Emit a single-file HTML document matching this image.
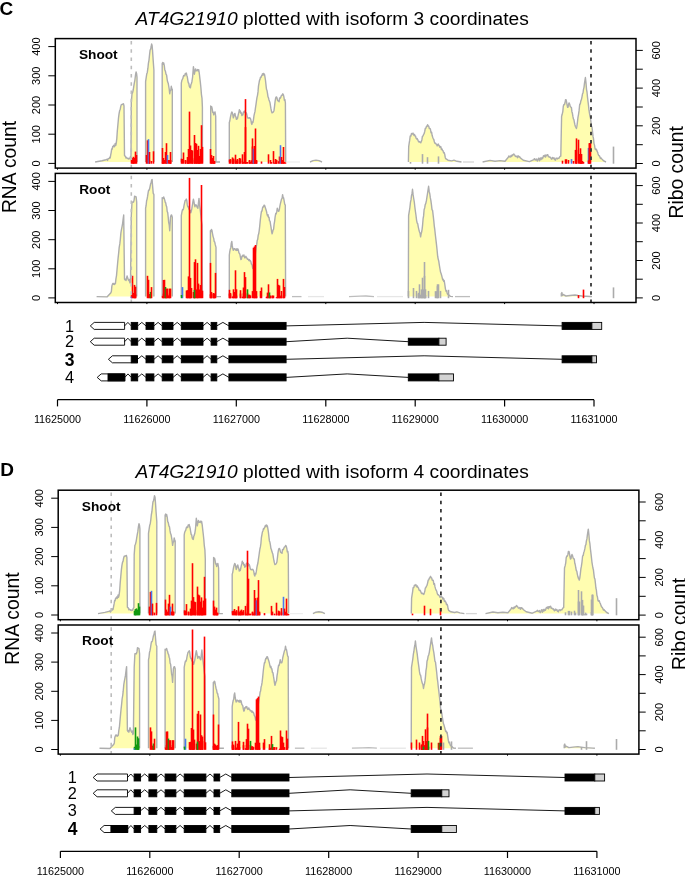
<!DOCTYPE html><html><head><meta charset="utf-8"><style>html,body{margin:0;padding:0;background:#fff;}svg{display:block;will-change:transform;}text{font-family:"Liberation Sans", sans-serif;}</style></head><body>
<svg width="685" height="875" viewBox="0 0 685 875">
<rect width="685" height="875" fill="#fff"/>
<text x="-0.6" y="14.9" font-size="19" text-anchor="start" font-weight="bold" font-style="normal" fill="#000">C</text>
<text x="135.6" y="24.7" font-size="19.2"><tspan font-style="italic">AT4G21910</tspan> plotted with isoform 3 coordinates</text>
<g><polygon points="95.1,162.0 102.0,160.8 106.0,159.8 106.5,159.4 107.0,159.5 107.6,160.4 108.1,158.7 108.6,158.6 109.2,158.6 109.7,157.2 110.2,157.9 110.7,154.9 111.2,152.3 111.7,148.9 112.2,149.2 112.7,146.5 113.2,146.5 113.7,145.3 114.2,146.9 114.7,145.9 115.2,143.4 115.7,145.6 116.2,143.6 116.8,138.6 117.3,131.3 117.9,124.7 118.5,118.0 119.0,114.1 119.6,110.8 120.2,109.5 120.7,106.6 121.3,104.7 121.8,104.6 122.4,104.2 123.0,104.4 123.5,103.8 124.0,106.0 124.5,155.6 125.0,156.0 125.5,156.4 126.0,158.1 126.5,157.6 127.0,158.0 127.6,158.6 128.1,158.3 128.7,158.9 129.2,158.4 129.8,158.7 130.4,156.7 131.0,156.0 131.3,102.9 132.0,93.8 132.6,92.6 133.2,90.0 133.7,86.9 134.3,83.2 134.9,80.1 135.5,75.2 136.1,72.0 136.6,73.8 137.0,77.2 137.0,162.0" fill="#FFFDB0" stroke="none"/>
<polygon points="145.6,162.0 145.6,81.7 146.2,77.7 146.8,73.7 147.3,72.4 147.9,68.2 148.4,63.4 149.0,60.1 149.6,54.2 150.1,50.0 150.6,49.4 151.1,47.0 151.6,44.0 152.1,45.5 152.5,50.0 153.2,60.6 153.9,70.0 153.9,162.0" fill="#FFFDB0" stroke="none"/>
<polygon points="162.2,162.0 162.2,63.6 162.7,62.5 163.2,64.4 163.7,62.9 164.3,65.6 164.8,70.0 165.4,71.1 166.0,74.2 166.6,75.2 167.1,79.1 167.6,81.8 168.2,83.2 168.7,86.0 169.2,89.0 169.7,93.8 170.2,90.8 170.8,90.2 171.3,86.3 171.8,88.6 172.3,89.3 172.3,162.0" fill="#FFFDB0" stroke="none"/>
<polygon points="181.3,162.0 181.3,83.2 181.8,80.6 182.3,79.4 182.8,78.7 183.3,76.5 183.8,75.4 184.3,75.7 184.8,75.9 185.3,73.4 185.8,73.9 186.3,73.0 186.8,75.2 187.3,76.9 187.8,80.2 188.3,82.9 188.8,83.2 189.3,86.3 189.9,87.5 190.4,87.8 190.9,84.6 191.4,83.5 191.9,81.7 192.6,77.2 193.4,66.7 193.9,69.6 194.4,74.2 195.0,70.9 195.6,68.9 196.1,70.8 196.6,70.8 197.1,70.4 197.6,69.6 198.2,71.1 198.7,69.7 199.3,73.3 199.9,78.7 200.4,82.9 200.9,87.8 201.4,94.1 202.0,98.3 202.4,107.4 202.4,162.0" fill="#FFFDB0" stroke="none"/>
<polygon points="210.7,162.0 210.7,105.9 211.2,107.3 211.7,106.7 212.2,108.9 212.7,112.4 213.2,112.0 213.7,114.9 214.3,112.7 215.0,111.9 215.7,116.4 216.0,162.0 220.0,162.0" fill="#FFFDB0" stroke="none"/>
<polygon points="229.3,162.0 229.3,122.5 229.8,121.0 230.3,117.9 230.8,115.4 231.3,113.3 231.8,111.9 232.3,112.6 232.8,114.7 233.3,117.9 233.8,116.6 234.4,114.1 234.9,113.4 235.4,115.7 235.9,117.0 236.4,119.4 236.9,118.3 237.4,118.8 237.9,116.4 238.4,114.1 238.9,112.1 239.4,109.6 239.9,112.0 240.4,111.2 240.9,113.4 241.4,112.9 241.9,115.6 242.4,114.9 242.9,114.9 243.4,112.1 243.9,111.9 244.4,111.0 244.9,112.6 245.4,111.9 245.9,114.2 246.4,113.0 246.9,114.9 247.4,117.3 247.9,118.0 248.4,117.9 248.9,118.2 249.4,117.7 249.9,117.9 250.4,118.5 250.9,120.0 251.4,123.2 251.9,124.4 252.4,121.9 252.9,122.5 253.4,120.1 254.0,115.7 254.5,113.4 255.0,111.4 255.5,107.7 256.0,104.4 256.5,100.7 257.0,97.4 257.5,95.3 258.0,91.9 258.5,85.9 259.0,83.2 259.5,80.4 260.0,79.4 260.5,77.2 261.0,77.5 261.5,76.1 262.0,75.0 262.5,73.8 263.0,75.2 263.5,73.4 264.0,73.8 264.5,74.5 265.0,77.2 265.5,80.5 266.0,85.1 266.5,89.3 267.0,90.5 267.5,93.3 268.0,96.8 268.5,97.9 269.0,100.0 269.5,101.3 270.0,102.7 270.5,106.0 271.0,108.9 271.5,111.3 272.0,112.9 272.5,112.7 273.0,112.4 273.5,111.7 274.0,110.4 274.5,106.6 275.1,101.3 275.6,98.3 276.1,96.9 276.6,96.9 277.1,98.3 277.6,100.5 278.1,100.9 278.6,101.3 279.1,101.7 279.6,97.9 280.1,98.3 280.6,97.7 281.1,96.2 281.6,95.3 282.2,95.2 282.8,93.8 283.4,94.8 283.9,96.8 284.4,100.3 284.9,99.6 285.4,102.9 285.7,162.0" fill="#FFFDB0" stroke="none"/>
<polygon points="310.0,162.0 313.0,160.6 316.0,160.1 319.0,160.6 322.0,162.0" fill="#FFFDB0" stroke="none"/>
<polygon points="408.4,162.0 408.7,146.6 409.2,143.2 409.7,140.2 410.2,136.0 410.9,136.0 411.5,133.5 412.0,134.0 412.5,133.8 413.0,133.0 413.5,134.5 414.0,135.4 414.5,134.4 415.0,136.0 415.5,136.0 416.1,138.2 416.6,139.0 417.2,138.6 417.8,139.8 418.3,141.2 418.8,141.9 419.3,141.5 419.8,142.2 420.3,141.9 420.8,142.8 421.4,141.3 421.9,139.7 422.4,136.4 423.0,136.0 423.6,134.5 424.1,133.7 424.7,131.5 425.3,128.5 425.9,128.2 426.5,126.3 427.0,126.4 427.6,124.7 428.2,125.9 428.8,126.4 429.3,128.6 429.9,128.5 430.4,129.0 431.0,132.7 431.6,132.2 432.1,135.3 432.7,137.3 433.2,138.6 433.8,139.5 434.4,142.0 434.9,143.2 435.5,143.1 436.1,144.1 436.6,144.3 437.2,145.9 437.8,144.3 438.3,144.0 438.9,145.8 439.4,145.7 439.9,147.4 440.4,146.5 440.9,146.9 441.4,149.6 441.9,148.9 442.5,150.3 443.0,150.6 443.6,152.9 444.2,152.6 444.7,154.1 445.2,157.2 445.7,158.7 448.0,160.2 451.7,160.9 454.0,160.2 457.0,161.3 461.5,162.0" fill="#FFFDB0" stroke="none"/>
<polygon points="482.6,162.0 490.0,160.4 495.0,161.2 500.0,160.6 505.0,161.2 508.3,157.2 508.8,156.0 509.4,156.3 509.9,157.1 510.5,157.1 511.0,155.5 511.6,156.5 512.1,155.0 512.6,155.4 513.2,154.5 513.8,153.9 514.3,154.9 514.8,155.1 515.4,156.4 515.9,156.6 516.5,156.4 517.0,156.0 517.5,157.7 518.1,156.0 518.6,156.0 519.2,157.1 519.8,156.9 520.3,157.9 523.3,160.2 529.4,161.6 533.9,159.6 534.4,158.7 534.9,159.3 535.4,160.0 535.9,159.6 536.4,159.0 537.0,160.6 537.5,161.0 538.0,159.5 538.5,158.3 539.0,158.2 539.5,160.7 540.0,159.6 540.5,157.9 541.0,159.5 541.5,158.8 542.0,157.6 542.5,158.7 543.0,157.5 543.5,155.8 544.1,155.9 544.6,156.6 545.1,155.0 545.6,157.1 546.2,155.1 546.7,155.6 547.2,154.8 547.8,154.7 548.3,156.7 548.9,156.4 549.4,157.1 550.0,157.4 550.5,157.2 551.0,158.4 551.5,159.2 552.0,158.7 552.5,157.5 553.0,158.6 553.5,158.0 554.0,157.8 554.5,159.5 555.0,159.9 555.5,160.2 556.0,158.3 556.5,158.3 557.0,158.2 557.5,159.0 558.0,158.2 558.5,158.1 559.0,158.3 559.5,157.2 560.1,156.3 560.8,156.0 561.6,116.4 562.2,114.3 562.8,111.6 563.3,106.2 563.9,104.4 564.5,104.5 565.0,102.8 565.5,99.8 566.1,99.8 566.6,102.2 567.1,105.2 567.6,107.4 568.1,107.1 568.6,104.0 569.1,102.9 569.7,104.2 570.2,106.3 570.8,107.2 571.4,107.4 571.9,111.7 572.4,113.3 572.9,116.4 573.4,118.9 573.9,119.6 574.4,122.5 574.9,124.7 575.4,126.5 575.9,127.4 576.4,128.5 576.9,126.2 577.4,122.5 578.0,117.1 578.5,114.6 579.1,110.4 579.7,104.4 580.3,103.9 580.9,100.7 581.4,99.6 582.0,96.8 582.5,93.8 583.0,93.0 583.5,89.3 584.0,87.3 584.5,83.2 585.4,77.5 586.0,82.9 586.5,89.3 587.0,92.0 587.5,97.1 588.0,101.3 588.5,105.5 589.0,110.2 589.5,113.4 590.0,116.4 590.5,118.1 591.0,122.5 591.5,126.4 592.0,127.2 592.5,131.5 593.0,136.4 593.5,138.6 594.0,143.6 594.5,145.1 595.0,148.5 595.5,149.6 596.0,149.0 596.5,149.5 597.0,151.1 597.6,152.3 598.1,154.0 598.7,155.5 599.3,155.6 599.9,156.9 600.5,158.5 601.0,157.9 601.6,158.7 603.8,160.9 606.0,162.0" fill="#FFFDB0" stroke="none"/>
<polygon points="96.6,296.6 107.0,296.9 110.9,292.7 111.4,291.3 111.9,285.9 112.4,284.4 112.9,283.4 113.4,284.2 113.9,283.4 114.4,284.6 114.9,284.1 115.4,283.6 115.9,279.1 116.5,275.6 117.0,270.0 117.5,264.5 118.1,258.1 118.7,252.7 119.2,247.4 119.8,243.9 120.3,239.6 120.9,232.9 121.5,229.3 122.0,226.8 122.6,223.6 123.2,218.6 123.7,215.0 124.5,279.1 125.0,279.8 125.5,279.2 126.0,280.6 126.5,278.4 127.1,276.0 127.7,277.9 128.3,279.8 128.9,280.7 129.4,279.5 129.9,282.9 130.5,282.1 131.3,215.7 132.0,202.2 132.5,202.2 133.0,201.9 133.5,202.2 134.1,200.1 134.6,196.1 135.1,196.6 135.6,196.6 136.1,196.9 136.7,202.2 136.7,296.6" fill="#FFFDB0" stroke="none"/>
<polygon points="145.6,296.6 145.6,208.2 146.1,205.7 146.6,200.8 147.1,199.1 147.6,196.2 148.1,192.8 148.6,190.1 149.1,190.2 149.6,188.8 150.1,186.3 150.6,183.9 151.1,182.8 151.6,180.1 152.1,179.5 152.6,186.1 153.2,193.1 153.9,194.6 153.9,296.6" fill="#FFFDB0" stroke="none"/>
<polygon points="162.2,296.6 162.2,197.6 162.7,198.3 163.2,198.3 163.7,196.9 164.2,198.6 164.7,199.9 165.2,202.2 165.7,202.8 166.2,205.6 166.7,206.7 167.2,211.5 167.7,212.6 168.2,217.2 168.7,222.6 169.2,224.8 169.7,230.8 170.5,217.2 171.1,215.2 171.6,215.0 172.3,217.2 172.3,296.6" fill="#FFFDB0" stroke="none"/>
<polygon points="181.3,296.6 181.3,215.7 182.1,211.2 182.6,209.4 183.1,209.8 183.6,208.2 184.1,205.2 184.6,202.8 185.1,200.7 185.7,200.3 186.3,199.1 186.8,200.4 187.3,204.9 187.8,206.7 188.3,206.6 188.8,208.7 189.3,209.7 189.8,210.0 190.3,210.8 190.8,212.7 191.4,210.5 191.9,208.2 192.4,205.0 192.9,201.8 193.4,199.1 193.9,201.4 194.4,204.3 194.9,206.7 195.4,205.2 195.9,204.8 196.4,205.2 196.9,206.6 197.4,207.6 197.9,208.2 198.4,203.4 199.0,198.4 199.6,205.1 200.2,209.7 200.9,215.7 201.4,220.6 202.0,224.8 202.4,296.6" fill="#FFFDB0" stroke="none"/>
<polygon points="210.4,296.6 210.4,230.8 210.9,231.6 211.4,229.5 211.9,230.1 212.5,233.6 213.1,236.6 213.7,238.4 214.2,241.6 214.7,241.8 215.2,244.4 216.0,247.4 216.0,296.6 221.0,296.6" fill="#FFFDB0" stroke="none"/>
<polygon points="229.3,296.6 229.3,255.0 229.8,251.4 230.3,248.9 230.8,247.7 231.3,243.1 231.8,241.4 232.3,245.9 232.8,248.6 233.3,250.4 233.8,248.8 234.4,248.6 234.9,248.9 235.4,250.1 235.9,249.2 236.4,250.4 236.9,248.7 237.4,250.4 237.9,248.9 238.4,250.2 238.9,252.8 239.4,253.4 239.9,254.3 240.4,257.2 240.9,259.5 241.4,259.1 241.9,256.1 242.4,256.5 242.9,255.1 243.4,256.0 243.9,255.0 244.4,257.0 244.9,257.9 245.4,257.2 245.9,256.3 246.4,257.8 246.9,258.0 247.4,259.3 247.9,259.0 248.4,259.5 248.9,260.6 249.4,259.6 249.9,261.0 250.4,260.7 250.9,261.8 251.4,264.0 252.1,264.9 252.7,268.5 253.2,267.2 253.7,265.5 254.2,262.0 254.7,258.7 255.2,255.0 255.7,250.4 256.2,247.0 256.7,244.4 257.2,240.5 257.7,239.4 258.2,235.3 258.7,233.8 259.2,230.6 259.7,226.3 260.3,220.1 260.9,214.9 261.5,211.2 262.0,211.1 262.5,208.1 263.0,206.7 263.5,207.0 264.0,205.2 264.5,205.2 265.0,206.6 265.5,208.2 266.0,209.7 266.5,211.5 267.0,214.0 267.5,215.7 268.0,214.7 268.5,217.3 269.0,217.2 269.5,220.8 270.1,221.3 270.6,224.8 271.1,227.7 271.6,231.5 272.1,233.8 272.6,232.0 273.1,229.9 273.6,229.3 274.1,224.3 274.6,221.3 275.1,217.2 275.7,213.5 276.2,213.9 276.8,211.4 277.3,208.2 277.8,209.8 278.4,211.3 278.9,211.2 279.4,209.1 279.9,205.9 280.4,203.7 280.9,201.7 281.5,199.2 282.1,198.3 282.6,194.6 283.1,197.5 283.6,197.9 284.1,200.7 284.7,204.2 285.3,205.2 285.6,296.6" fill="#FFFDB0" stroke="none"/>
<polygon points="408.3,296.6 408.6,215.7 409.2,211.9 409.9,207.5 410.5,202.2 411.0,199.9 411.5,195.5 412.0,193.7 412.5,189.3 413.1,194.7 413.7,198.5 414.3,202.2 414.9,207.5 415.5,212.0 416.0,215.5 416.6,220.3 417.2,223.2 417.7,223.5 418.2,226.6 418.8,229.3 419.4,231.7 420.0,232.9 420.6,236.9 421.1,233.9 421.6,232.2 422.1,229.3 422.6,224.8 423.1,218.7 423.6,215.9 424.1,209.7 424.7,207.9 425.2,204.7 425.8,203.4 426.4,200.7 426.9,197.3 427.5,193.6 428.1,189.6 428.6,186.3 429.2,191.4 429.8,193.9 430.3,197.7 430.9,200.7 431.5,205.2 432.0,209.6 432.6,210.5 433.2,215.7 433.8,220.9 434.3,226.2 434.8,229.7 435.4,235.3 436.0,240.3 436.5,244.6 437.1,250.3 437.7,256.5 438.2,259.1 438.8,261.3 439.3,264.8 439.9,268.5 440.5,272.0 441.0,273.2 441.6,275.3 442.2,277.6 442.7,279.8 443.2,279.3 443.7,281.3 444.2,280.6 444.8,284.5 445.4,288.6 446.0,291.2 446.6,290.7 447.1,293.0 447.6,294.2 448.2,294.2 450.5,296.4 453.0,296.6" fill="#FFFDB0" stroke="none"/>
<polygon points="561.3,296.6 561.3,293.6 561.9,292.5 562.4,295.5 563.0,294.5 566.0,296.0 570.0,295.5 575.0,295.0 578.0,295.5 582.0,296.0 590.0,296.5 592.0,296.6" fill="#FFFDB0" stroke="none"/>
<polyline points="95.1,162.0 102.0,160.8 106.0,159.8 106.5,159.4 107.0,159.5 107.6,160.4 108.1,158.7 108.6,158.6 109.2,158.6 109.7,157.2 110.2,157.9 110.7,154.9 111.2,152.3 111.7,148.9 112.2,149.2 112.7,146.5 113.2,146.5 113.7,145.3 114.2,146.9 114.7,145.9 115.2,143.4 115.7,145.6 116.2,143.6 116.8,138.6 117.3,131.3 117.9,124.7 118.5,118.0 119.0,114.1 119.6,110.8 120.2,109.5 120.7,106.6 121.3,104.7 121.8,104.6 122.4,104.2 123.0,104.4 123.5,103.8 124.0,106.0 124.5,155.6 125.0,156.0 125.5,156.4 126.0,158.1 126.5,157.6 127.0,158.0 127.6,158.6 128.1,158.3 128.7,158.9 129.2,158.4 129.8,158.7 130.4,156.7 131.0,156.0 131.3,102.9 132.0,93.8 132.6,92.6 133.2,90.0 133.7,86.9 134.3,83.2 134.9,80.1 135.5,75.2 136.1,72.0 136.6,73.8 137.0,77.2 137.0,162.0" fill="none" stroke="#ADADAD" stroke-width="1.4" stroke-linejoin="round"/>
<polyline points="145.6,162.0 145.6,81.7 146.2,77.7 146.8,73.7 147.3,72.4 147.9,68.2 148.4,63.4 149.0,60.1 149.6,54.2 150.1,50.0 150.6,49.4 151.1,47.0 151.6,44.0 152.1,45.5 152.5,50.0 153.2,60.6 153.9,70.0 153.9,162.0" fill="none" stroke="#ADADAD" stroke-width="1.4" stroke-linejoin="round"/>
<polyline points="162.2,162.0 162.2,63.6 162.7,62.5 163.2,64.4 163.7,62.9 164.3,65.6 164.8,70.0 165.4,71.1 166.0,74.2 166.6,75.2 167.1,79.1 167.6,81.8 168.2,83.2 168.7,86.0 169.2,89.0 169.7,93.8 170.2,90.8 170.8,90.2 171.3,86.3 171.8,88.6 172.3,89.3 172.3,162.0" fill="none" stroke="#ADADAD" stroke-width="1.4" stroke-linejoin="round"/>
<polyline points="181.3,162.0 181.3,83.2 181.8,80.6 182.3,79.4 182.8,78.7 183.3,76.5 183.8,75.4 184.3,75.7 184.8,75.9 185.3,73.4 185.8,73.9 186.3,73.0 186.8,75.2 187.3,76.9 187.8,80.2 188.3,82.9 188.8,83.2 189.3,86.3 189.9,87.5 190.4,87.8 190.9,84.6 191.4,83.5 191.9,81.7 192.6,77.2 193.4,66.7 193.9,69.6 194.4,74.2 195.0,70.9 195.6,68.9 196.1,70.8 196.6,70.8 197.1,70.4 197.6,69.6 198.2,71.1 198.7,69.7 199.3,73.3 199.9,78.7 200.4,82.9 200.9,87.8 201.4,94.1 202.0,98.3 202.4,107.4 202.4,162.0" fill="none" stroke="#ADADAD" stroke-width="1.4" stroke-linejoin="round"/>
<polyline points="210.7,162.0 210.7,105.9 211.2,107.3 211.7,106.7 212.2,108.9 212.7,112.4 213.2,112.0 213.7,114.9 214.3,112.7 215.0,111.9 215.7,116.4 216.0,162.0 220.0,162.0" fill="none" stroke="#ADADAD" stroke-width="1.4" stroke-linejoin="round"/>
<polyline points="229.3,162.0 229.3,122.5 229.8,121.0 230.3,117.9 230.8,115.4 231.3,113.3 231.8,111.9 232.3,112.6 232.8,114.7 233.3,117.9 233.8,116.6 234.4,114.1 234.9,113.4 235.4,115.7 235.9,117.0 236.4,119.4 236.9,118.3 237.4,118.8 237.9,116.4 238.4,114.1 238.9,112.1 239.4,109.6 239.9,112.0 240.4,111.2 240.9,113.4 241.4,112.9 241.9,115.6 242.4,114.9 242.9,114.9 243.4,112.1 243.9,111.9 244.4,111.0 244.9,112.6 245.4,111.9 245.9,114.2 246.4,113.0 246.9,114.9 247.4,117.3 247.9,118.0 248.4,117.9 248.9,118.2 249.4,117.7 249.9,117.9 250.4,118.5 250.9,120.0 251.4,123.2 251.9,124.4 252.4,121.9 252.9,122.5 253.4,120.1 254.0,115.7 254.5,113.4 255.0,111.4 255.5,107.7 256.0,104.4 256.5,100.7 257.0,97.4 257.5,95.3 258.0,91.9 258.5,85.9 259.0,83.2 259.5,80.4 260.0,79.4 260.5,77.2 261.0,77.5 261.5,76.1 262.0,75.0 262.5,73.8 263.0,75.2 263.5,73.4 264.0,73.8 264.5,74.5 265.0,77.2 265.5,80.5 266.0,85.1 266.5,89.3 267.0,90.5 267.5,93.3 268.0,96.8 268.5,97.9 269.0,100.0 269.5,101.3 270.0,102.7 270.5,106.0 271.0,108.9 271.5,111.3 272.0,112.9 272.5,112.7 273.0,112.4 273.5,111.7 274.0,110.4 274.5,106.6 275.1,101.3 275.6,98.3 276.1,96.9 276.6,96.9 277.1,98.3 277.6,100.5 278.1,100.9 278.6,101.3 279.1,101.7 279.6,97.9 280.1,98.3 280.6,97.7 281.1,96.2 281.6,95.3 282.2,95.2 282.8,93.8 283.4,94.8 283.9,96.8 284.4,100.3 284.9,99.6 285.4,102.9 285.7,162.0" fill="none" stroke="#ADADAD" stroke-width="1.4" stroke-linejoin="round"/>
<polyline points="310.0,162.0 313.0,160.6 316.0,160.1 319.0,160.6 322.0,162.0" fill="none" stroke="#ADADAD" stroke-width="1.4" stroke-linejoin="round"/>
<polyline points="408.4,162.0 408.7,146.6 409.2,143.2 409.7,140.2 410.2,136.0 410.9,136.0 411.5,133.5 412.0,134.0 412.5,133.8 413.0,133.0 413.5,134.5 414.0,135.4 414.5,134.4 415.0,136.0 415.5,136.0 416.1,138.2 416.6,139.0 417.2,138.6 417.8,139.8 418.3,141.2 418.8,141.9 419.3,141.5 419.8,142.2 420.3,141.9 420.8,142.8 421.4,141.3 421.9,139.7 422.4,136.4 423.0,136.0 423.6,134.5 424.1,133.7 424.7,131.5 425.3,128.5 425.9,128.2 426.5,126.3 427.0,126.4 427.6,124.7 428.2,125.9 428.8,126.4 429.3,128.6 429.9,128.5 430.4,129.0 431.0,132.7 431.6,132.2 432.1,135.3 432.7,137.3 433.2,138.6 433.8,139.5 434.4,142.0 434.9,143.2 435.5,143.1 436.1,144.1 436.6,144.3 437.2,145.9 437.8,144.3 438.3,144.0 438.9,145.8 439.4,145.7 439.9,147.4 440.4,146.5 440.9,146.9 441.4,149.6 441.9,148.9 442.5,150.3 443.0,150.6 443.6,152.9 444.2,152.6 444.7,154.1 445.2,157.2 445.7,158.7 448.0,160.2 451.7,160.9 454.0,160.2 457.0,161.3 461.5,162.0" fill="none" stroke="#ADADAD" stroke-width="1.4" stroke-linejoin="round"/>
<polyline points="482.6,162.0 490.0,160.4 495.0,161.2 500.0,160.6 505.0,161.2 508.3,157.2 508.8,156.0 509.4,156.3 509.9,157.1 510.5,157.1 511.0,155.5 511.6,156.5 512.1,155.0 512.6,155.4 513.2,154.5 513.8,153.9 514.3,154.9 514.8,155.1 515.4,156.4 515.9,156.6 516.5,156.4 517.0,156.0 517.5,157.7 518.1,156.0 518.6,156.0 519.2,157.1 519.8,156.9 520.3,157.9 523.3,160.2 529.4,161.6 533.9,159.6 534.4,158.7 534.9,159.3 535.4,160.0 535.9,159.6 536.4,159.0 537.0,160.6 537.5,161.0 538.0,159.5 538.5,158.3 539.0,158.2 539.5,160.7 540.0,159.6 540.5,157.9 541.0,159.5 541.5,158.8 542.0,157.6 542.5,158.7 543.0,157.5 543.5,155.8 544.1,155.9 544.6,156.6 545.1,155.0 545.6,157.1 546.2,155.1 546.7,155.6 547.2,154.8 547.8,154.7 548.3,156.7 548.9,156.4 549.4,157.1 550.0,157.4 550.5,157.2 551.0,158.4 551.5,159.2 552.0,158.7 552.5,157.5 553.0,158.6 553.5,158.0 554.0,157.8 554.5,159.5 555.0,159.9 555.5,160.2 556.0,158.3 556.5,158.3 557.0,158.2 557.5,159.0 558.0,158.2 558.5,158.1 559.0,158.3 559.5,157.2 560.1,156.3 560.8,156.0 561.6,116.4 562.2,114.3 562.8,111.6 563.3,106.2 563.9,104.4 564.5,104.5 565.0,102.8 565.5,99.8 566.1,99.8 566.6,102.2 567.1,105.2 567.6,107.4 568.1,107.1 568.6,104.0 569.1,102.9 569.7,104.2 570.2,106.3 570.8,107.2 571.4,107.4 571.9,111.7 572.4,113.3 572.9,116.4 573.4,118.9 573.9,119.6 574.4,122.5 574.9,124.7 575.4,126.5 575.9,127.4 576.4,128.5 576.9,126.2 577.4,122.5 578.0,117.1 578.5,114.6 579.1,110.4 579.7,104.4 580.3,103.9 580.9,100.7 581.4,99.6 582.0,96.8 582.5,93.8 583.0,93.0 583.5,89.3 584.0,87.3 584.5,83.2 585.4,77.5 586.0,82.9 586.5,89.3 587.0,92.0 587.5,97.1 588.0,101.3 588.5,105.5 589.0,110.2 589.5,113.4 590.0,116.4 590.5,118.1 591.0,122.5 591.5,126.4 592.0,127.2 592.5,131.5 593.0,136.4 593.5,138.6 594.0,143.6 594.5,145.1 595.0,148.5 595.5,149.6 596.0,149.0 596.5,149.5 597.0,151.1 597.6,152.3 598.1,154.0 598.7,155.5 599.3,155.6 599.9,156.9 600.5,158.5 601.0,157.9 601.6,158.7 603.8,160.9 606.0,162.0" fill="none" stroke="#ADADAD" stroke-width="1.4" stroke-linejoin="round"/>
<polyline points="96.6,296.6 107.0,296.9 110.9,292.7 111.4,291.3 111.9,285.9 112.4,284.4 112.9,283.4 113.4,284.2 113.9,283.4 114.4,284.6 114.9,284.1 115.4,283.6 115.9,279.1 116.5,275.6 117.0,270.0 117.5,264.5 118.1,258.1 118.7,252.7 119.2,247.4 119.8,243.9 120.3,239.6 120.9,232.9 121.5,229.3 122.0,226.8 122.6,223.6 123.2,218.6 123.7,215.0 124.5,279.1 125.0,279.8 125.5,279.2 126.0,280.6 126.5,278.4 127.1,276.0 127.7,277.9 128.3,279.8 128.9,280.7 129.4,279.5 129.9,282.9 130.5,282.1 131.3,215.7 132.0,202.2 132.5,202.2 133.0,201.9 133.5,202.2 134.1,200.1 134.6,196.1 135.1,196.6 135.6,196.6 136.1,196.9 136.7,202.2 136.7,296.6" fill="none" stroke="#ADADAD" stroke-width="1.4" stroke-linejoin="round"/>
<polyline points="145.6,296.6 145.6,208.2 146.1,205.7 146.6,200.8 147.1,199.1 147.6,196.2 148.1,192.8 148.6,190.1 149.1,190.2 149.6,188.8 150.1,186.3 150.6,183.9 151.1,182.8 151.6,180.1 152.1,179.5 152.6,186.1 153.2,193.1 153.9,194.6 153.9,296.6" fill="none" stroke="#ADADAD" stroke-width="1.4" stroke-linejoin="round"/>
<polyline points="162.2,296.6 162.2,197.6 162.7,198.3 163.2,198.3 163.7,196.9 164.2,198.6 164.7,199.9 165.2,202.2 165.7,202.8 166.2,205.6 166.7,206.7 167.2,211.5 167.7,212.6 168.2,217.2 168.7,222.6 169.2,224.8 169.7,230.8 170.5,217.2 171.1,215.2 171.6,215.0 172.3,217.2 172.3,296.6" fill="none" stroke="#ADADAD" stroke-width="1.4" stroke-linejoin="round"/>
<polyline points="181.3,296.6 181.3,215.7 182.1,211.2 182.6,209.4 183.1,209.8 183.6,208.2 184.1,205.2 184.6,202.8 185.1,200.7 185.7,200.3 186.3,199.1 186.8,200.4 187.3,204.9 187.8,206.7 188.3,206.6 188.8,208.7 189.3,209.7 189.8,210.0 190.3,210.8 190.8,212.7 191.4,210.5 191.9,208.2 192.4,205.0 192.9,201.8 193.4,199.1 193.9,201.4 194.4,204.3 194.9,206.7 195.4,205.2 195.9,204.8 196.4,205.2 196.9,206.6 197.4,207.6 197.9,208.2 198.4,203.4 199.0,198.4 199.6,205.1 200.2,209.7 200.9,215.7 201.4,220.6 202.0,224.8 202.4,296.6" fill="none" stroke="#ADADAD" stroke-width="1.4" stroke-linejoin="round"/>
<polyline points="210.4,296.6 210.4,230.8 210.9,231.6 211.4,229.5 211.9,230.1 212.5,233.6 213.1,236.6 213.7,238.4 214.2,241.6 214.7,241.8 215.2,244.4 216.0,247.4 216.0,296.6 221.0,296.6" fill="none" stroke="#ADADAD" stroke-width="1.4" stroke-linejoin="round"/>
<polyline points="229.3,296.6 229.3,255.0 229.8,251.4 230.3,248.9 230.8,247.7 231.3,243.1 231.8,241.4 232.3,245.9 232.8,248.6 233.3,250.4 233.8,248.8 234.4,248.6 234.9,248.9 235.4,250.1 235.9,249.2 236.4,250.4 236.9,248.7 237.4,250.4 237.9,248.9 238.4,250.2 238.9,252.8 239.4,253.4 239.9,254.3 240.4,257.2 240.9,259.5 241.4,259.1 241.9,256.1 242.4,256.5 242.9,255.1 243.4,256.0 243.9,255.0 244.4,257.0 244.9,257.9 245.4,257.2 245.9,256.3 246.4,257.8 246.9,258.0 247.4,259.3 247.9,259.0 248.4,259.5 248.9,260.6 249.4,259.6 249.9,261.0 250.4,260.7 250.9,261.8 251.4,264.0 252.1,264.9 252.7,268.5 253.2,267.2 253.7,265.5 254.2,262.0 254.7,258.7 255.2,255.0 255.7,250.4 256.2,247.0 256.7,244.4 257.2,240.5 257.7,239.4 258.2,235.3 258.7,233.8 259.2,230.6 259.7,226.3 260.3,220.1 260.9,214.9 261.5,211.2 262.0,211.1 262.5,208.1 263.0,206.7 263.5,207.0 264.0,205.2 264.5,205.2 265.0,206.6 265.5,208.2 266.0,209.7 266.5,211.5 267.0,214.0 267.5,215.7 268.0,214.7 268.5,217.3 269.0,217.2 269.5,220.8 270.1,221.3 270.6,224.8 271.1,227.7 271.6,231.5 272.1,233.8 272.6,232.0 273.1,229.9 273.6,229.3 274.1,224.3 274.6,221.3 275.1,217.2 275.7,213.5 276.2,213.9 276.8,211.4 277.3,208.2 277.8,209.8 278.4,211.3 278.9,211.2 279.4,209.1 279.9,205.9 280.4,203.7 280.9,201.7 281.5,199.2 282.1,198.3 282.6,194.6 283.1,197.5 283.6,197.9 284.1,200.7 284.7,204.2 285.3,205.2 285.6,296.6" fill="none" stroke="#ADADAD" stroke-width="1.4" stroke-linejoin="round"/>
<polyline points="408.3,296.6 408.6,215.7 409.2,211.9 409.9,207.5 410.5,202.2 411.0,199.9 411.5,195.5 412.0,193.7 412.5,189.3 413.1,194.7 413.7,198.5 414.3,202.2 414.9,207.5 415.5,212.0 416.0,215.5 416.6,220.3 417.2,223.2 417.7,223.5 418.2,226.6 418.8,229.3 419.4,231.7 420.0,232.9 420.6,236.9 421.1,233.9 421.6,232.2 422.1,229.3 422.6,224.8 423.1,218.7 423.6,215.9 424.1,209.7 424.7,207.9 425.2,204.7 425.8,203.4 426.4,200.7 426.9,197.3 427.5,193.6 428.1,189.6 428.6,186.3 429.2,191.4 429.8,193.9 430.3,197.7 430.9,200.7 431.5,205.2 432.0,209.6 432.6,210.5 433.2,215.7 433.8,220.9 434.3,226.2 434.8,229.7 435.4,235.3 436.0,240.3 436.5,244.6 437.1,250.3 437.7,256.5 438.2,259.1 438.8,261.3 439.3,264.8 439.9,268.5 440.5,272.0 441.0,273.2 441.6,275.3 442.2,277.6 442.7,279.8 443.2,279.3 443.7,281.3 444.2,280.6 444.8,284.5 445.4,288.6 446.0,291.2 446.6,290.7 447.1,293.0 447.6,294.2 448.2,294.2 450.5,296.4 453.0,296.6" fill="none" stroke="#ADADAD" stroke-width="1.4" stroke-linejoin="round"/>
<polyline points="561.3,296.6 561.3,293.6 561.9,292.5 562.4,295.5 563.0,294.5 566.0,296.0 570.0,295.5 575.0,295.0 578.0,295.5 582.0,296.0 590.0,296.5 592.0,296.6" fill="none" stroke="#ADADAD" stroke-width="1.4" stroke-linejoin="round"/>
<rect x="580.70" y="162.6" width="1.6" height="1.1" fill="#FF0000"/>
<rect x="579.70" y="162.4" width="1.6" height="1.3" fill="#FF0000"/>
<rect x="284.70" y="162.4" width="1.6" height="1.3" fill="#FF0000"/>
<rect x="282.70" y="161.5" width="1.6" height="2.2" fill="#FF0000"/>
<rect x="281.70" y="160.1" width="1.6" height="3.6" fill="#FF0000"/>
<rect x="280.70" y="160.0" width="1.6" height="3.7" fill="#FF0000"/>
<rect x="277.70" y="161.2" width="1.6" height="2.5" fill="#FF0000"/>
<rect x="275.70" y="159.8" width="1.6" height="3.9" fill="#FF0000"/>
<rect x="274.70" y="161.6" width="1.6" height="2.1" fill="#FF0000"/>
<rect x="273.70" y="162.7" width="1.6" height="1.0" fill="#FF0000"/>
<rect x="270.70" y="162.0" width="1.6" height="1.7" fill="#FF0000"/>
<rect x="255.70" y="160.9" width="1.6" height="2.8" fill="#FF0000"/>
<rect x="253.70" y="161.2" width="1.6" height="2.5" fill="#FF0000"/>
<rect x="252.70" y="159.3" width="1.6" height="4.4" fill="#FF0000"/>
<rect x="250.70" y="160.3" width="1.6" height="3.4" fill="#FF0000"/>
<rect x="249.70" y="161.9" width="1.6" height="1.8" fill="#FF0000"/>
<rect x="248.70" y="160.8" width="1.6" height="2.9" fill="#FF0000"/>
<rect x="245.70" y="162.0" width="1.6" height="1.7" fill="#FF0000"/>
<rect x="242.70" y="162.1" width="1.6" height="1.6" fill="#FF0000"/>
<rect x="241.70" y="160.8" width="1.6" height="2.9" fill="#FF0000"/>
<rect x="238.70" y="159.9" width="1.6" height="3.8" fill="#FF0000"/>
<rect x="236.70" y="162.0" width="1.6" height="1.7" fill="#FF0000"/>
<rect x="235.70" y="160.5" width="1.6" height="3.2" fill="#FF0000"/>
<rect x="234.70" y="159.3" width="1.6" height="4.4" fill="#FF0000"/>
<rect x="232.70" y="160.2" width="1.6" height="3.5" fill="#FF0000"/>
<rect x="231.70" y="159.8" width="1.6" height="3.9" fill="#FF0000"/>
<rect x="229.70" y="159.1" width="1.6" height="4.6" fill="#FF0000"/>
<rect x="228.70" y="159.5" width="1.6" height="4.2" fill="#FF0000"/>
<rect x="213.70" y="161.5" width="1.6" height="2.2" fill="#FF0000"/>
<rect x="212.70" y="161.1" width="1.6" height="2.6" fill="#FF0000"/>
<rect x="210.70" y="160.0" width="1.6" height="3.7" fill="#FF0000"/>
<rect x="198.70" y="159.1" width="1.6" height="4.6" fill="#FF0000"/>
<rect x="197.70" y="160.5" width="1.6" height="3.2" fill="#FF0000"/>
<rect x="195.70" y="157.7" width="1.6" height="6.0" fill="#FF0000"/>
<rect x="193.70" y="160.1" width="1.6" height="3.6" fill="#FF0000"/>
<rect x="191.70" y="158.3" width="1.6" height="5.4" fill="#FF0000"/>
<rect x="187.70" y="158.5" width="1.6" height="5.2" fill="#FF0000"/>
<rect x="186.70" y="160.8" width="1.6" height="2.9" fill="#FF0000"/>
<rect x="184.70" y="160.2" width="1.6" height="3.5" fill="#FF0000"/>
<rect x="169.70" y="160.2" width="1.6" height="3.5" fill="#FF0000"/>
<rect x="168.70" y="160.0" width="1.6" height="3.7" fill="#FF0000"/>
<rect x="165.70" y="160.7" width="1.6" height="3.0" fill="#FF0000"/>
<rect x="162.70" y="162.1" width="1.6" height="1.6" fill="#FF0000"/>
<rect x="161.70" y="162.0" width="1.6" height="1.7" fill="#FF0000"/>
<rect x="148.70" y="160.3" width="1.6" height="3.4" fill="#FF0000"/>
<rect x="130.70" y="159.3" width="1.6" height="4.4" fill="#FF0000"/>
<rect x="131.70" y="158.0" width="1.6" height="5.7" fill="#FF0000"/>
<rect x="132.70" y="157.5" width="1.6" height="6.2" fill="#FF0000"/>
<rect x="132.70" y="156.8" width="1.6" height="6.9" fill="#FF0000"/>
<rect x="133.70" y="158.0" width="1.6" height="5.7" fill="#FF0000"/>
<rect x="134.70" y="151.6" width="1.6" height="12.1" fill="#FF0000"/>
<rect x="135.70" y="155.0" width="1.6" height="8.7" fill="#FF0000"/>
<rect x="145.70" y="155.0" width="1.6" height="8.7" fill="#FF0000"/>
<rect x="146.70" y="140.3" width="1.6" height="23.4" fill="#FF0000"/>
<rect x="147.70" y="139.2" width="1.6" height="24.5" fill="#4A78F0"/>
<rect x="148.70" y="152.0" width="1.6" height="11.7" fill="#FF0000"/>
<rect x="150.70" y="161.0" width="1.6" height="2.7" fill="#FF0000"/>
<rect x="152.70" y="151.3" width="1.6" height="12.4" fill="#FF0000"/>
<rect x="161.70" y="148.0" width="1.6" height="15.7" fill="#FF0000"/>
<rect x="162.70" y="158.0" width="1.6" height="5.7" fill="#FF0000"/>
<rect x="163.70" y="160.0" width="1.6" height="3.7" fill="#FF0000"/>
<rect x="164.70" y="152.0" width="1.6" height="11.7" fill="#FF0000"/>
<rect x="165.70" y="143.2" width="1.6" height="20.5" fill="#FF0000"/>
<rect x="166.70" y="155.0" width="1.6" height="8.7" fill="#4A78F0"/>
<rect x="167.70" y="160.0" width="1.6" height="3.7" fill="#FF0000"/>
<rect x="169.70" y="152.0" width="1.6" height="11.7" fill="#FF0000"/>
<rect x="169.70" y="160.0" width="1.6" height="3.7" fill="#FF0000"/>
<rect x="180.70" y="158.7" width="1.6" height="5.0" fill="#FF0000"/>
<rect x="181.70" y="159.0" width="1.6" height="4.7" fill="#FF0000"/>
<rect x="182.70" y="152.5" width="1.6" height="11.2" fill="#FF0000"/>
<rect x="184.70" y="160.0" width="1.6" height="3.7" fill="#FF0000"/>
<rect x="186.70" y="157.0" width="1.6" height="6.7" fill="#FF0000"/>
<rect x="187.70" y="149.0" width="1.6" height="14.7" fill="#FF0000"/>
<rect x="188.70" y="111.6" width="1.6" height="52.1" fill="#FF0000"/>
<rect x="189.70" y="145.5" width="1.6" height="18.2" fill="#FF0000"/>
<rect x="190.70" y="150.0" width="1.6" height="13.7" fill="#FF0000"/>
<rect x="191.70" y="150.5" width="1.6" height="13.2" fill="#FF0000"/>
<rect x="193.70" y="135.0" width="1.6" height="28.7" fill="#FF0000"/>
<rect x="194.70" y="143.0" width="1.6" height="20.7" fill="#FF0000"/>
<rect x="195.70" y="143.8" width="1.6" height="19.9" fill="#FF0000"/>
<rect x="196.70" y="150.0" width="1.6" height="13.7" fill="#FF0000"/>
<rect x="197.70" y="145.8" width="1.6" height="17.9" fill="#FF0000"/>
<rect x="198.70" y="156.0" width="1.6" height="7.7" fill="#FF0000"/>
<rect x="199.70" y="149.0" width="1.6" height="14.7" fill="#FF0000"/>
<rect x="200.70" y="125.2" width="1.6" height="38.5" fill="#FF0000"/>
<rect x="201.70" y="146.9" width="1.6" height="16.8" fill="#FF0000"/>
<rect x="209.70" y="149.0" width="1.6" height="14.7" fill="#FF0000"/>
<rect x="210.70" y="155.0" width="1.6" height="8.7" fill="#FF0000"/>
<rect x="211.70" y="158.0" width="1.6" height="5.7" fill="#FF0000"/>
<rect x="212.70" y="156.0" width="1.6" height="7.7" fill="#FF0000"/>
<rect x="213.70" y="161.0" width="1.6" height="2.7" fill="#FF0000"/>
<rect x="231.70" y="157.4" width="1.6" height="6.3" fill="#FF0000"/>
<rect x="232.70" y="158.5" width="1.6" height="5.2" fill="#FF0000"/>
<rect x="234.70" y="154.7" width="1.6" height="9.0" fill="#FF0000"/>
<rect x="236.70" y="159.0" width="1.6" height="4.7" fill="#FF0000"/>
<rect x="238.70" y="158.0" width="1.6" height="5.7" fill="#FF0000"/>
<rect x="239.70" y="158.5" width="1.6" height="5.2" fill="#FF0000"/>
<rect x="241.70" y="154.3" width="1.6" height="9.4" fill="#FF0000"/>
<rect x="243.70" y="152.0" width="1.6" height="11.7" fill="#FF0000"/>
<rect x="244.70" y="99.1" width="1.6" height="64.6" fill="#FF0000"/>
<rect x="244.70" y="127.1" width="1.6" height="36.6" fill="#FF0000"/>
<rect x="246.70" y="162.0" width="1.6" height="1.7" fill="#FF0000"/>
<rect x="248.70" y="160.0" width="1.6" height="3.7" fill="#FF0000"/>
<rect x="251.70" y="138.4" width="1.6" height="25.3" fill="#FF0000"/>
<rect x="251.70" y="146.5" width="1.6" height="17.2" fill="#FF0000"/>
<rect x="252.70" y="148.7" width="1.6" height="15.0" fill="#4A78F0"/>
<rect x="253.70" y="146.0" width="1.6" height="17.7" fill="#FF0000"/>
<rect x="254.70" y="128.5" width="1.6" height="35.2" fill="#FF0000"/>
<rect x="255.70" y="160.0" width="1.6" height="3.7" fill="#FF0000"/>
<rect x="260.70" y="161.5" width="1.6" height="2.2" fill="#FF0000"/>
<rect x="267.70" y="154.3" width="1.6" height="9.4" fill="#FF0000"/>
<rect x="269.70" y="160.0" width="1.6" height="3.7" fill="#FF0000"/>
<rect x="272.70" y="151.1" width="1.6" height="12.6" fill="#FF0000"/>
<rect x="274.70" y="159.0" width="1.6" height="4.7" fill="#FF0000"/>
<rect x="275.70" y="160.0" width="1.6" height="3.7" fill="#FF0000"/>
<rect x="278.70" y="156.5" width="1.6" height="7.2" fill="#FF0000"/>
<rect x="279.70" y="145.2" width="1.6" height="18.5" fill="#4A78F0"/>
<rect x="280.70" y="157.0" width="1.6" height="6.7" fill="#FF0000"/>
<rect x="282.70" y="147.0" width="1.6" height="16.7" fill="#FF0000"/>
<rect x="283.70" y="162.0" width="1.6" height="1.7" fill="#FF0000"/>
<rect x="561.70" y="160.7" width="1.6" height="3.0" fill="#FF0000"/>
<rect x="564.70" y="159.3" width="1.6" height="4.4" fill="#FF0000"/>
<rect x="565.70" y="159.3" width="1.6" height="4.4" fill="#FF0000"/>
<rect x="567.70" y="160.0" width="1.6" height="3.7" fill="#FF0000"/>
<rect x="570.70" y="159.1" width="1.6" height="4.6" fill="#4A78F0"/>
<rect x="572.70" y="161.0" width="1.6" height="2.7" fill="#FF0000"/>
<rect x="574.70" y="149.9" width="1.6" height="13.8" fill="#FF0000"/>
<rect x="575.70" y="138.4" width="1.6" height="25.3" fill="#FF0000"/>
<rect x="575.70" y="150.0" width="1.6" height="13.7" fill="#FF0000"/>
<rect x="577.70" y="139.7" width="1.6" height="24.0" fill="#FF0000"/>
<rect x="578.70" y="154.0" width="1.6" height="9.7" fill="#FF0000"/>
<rect x="579.70" y="148.3" width="1.6" height="15.4" fill="#FF0000"/>
<rect x="580.70" y="154.0" width="1.6" height="9.7" fill="#FF0000"/>
<rect x="581.70" y="161.0" width="1.6" height="2.7" fill="#FF0000"/>
<rect x="582.70" y="162.0" width="1.6" height="1.7" fill="#FF0000"/>
<rect x="587.70" y="147.9" width="1.6" height="15.8" fill="#4A78F0"/>
<rect x="588.70" y="143.0" width="1.6" height="20.7" fill="#FF0000"/>
<rect x="589.70" y="143.0" width="1.6" height="20.7" fill="#FF0000"/>
<rect x="409.70" y="162.0" width="1.6" height="1.7" fill="#ABABAB"/>
<rect x="421.70" y="154.1" width="1.6" height="9.6" fill="#ABABAB"/>
<rect x="426.70" y="157.2" width="1.6" height="6.5" fill="#ABABAB"/>
<rect x="437.70" y="156.4" width="1.6" height="7.3" fill="#ABABAB"/>
<rect x="612.70" y="146.6" width="1.6" height="17.1" fill="#ABABAB"/>
<rect x="587.70" y="160.5" width="1.6" height="3.2" fill="#FF0000"/>
<rect x="588.70" y="143.5" width="1.6" height="20.2" fill="#FF0000"/>
<rect x="424.70" y="295.1" width="1.6" height="3.1" fill="#ABABAB"/>
<rect x="423.70" y="294.9" width="1.6" height="3.3" fill="#ABABAB"/>
<rect x="421.70" y="294.6" width="1.6" height="3.6" fill="#ABABAB"/>
<rect x="420.70" y="293.5" width="1.6" height="4.7" fill="#ABABAB"/>
<rect x="418.70" y="294.7" width="1.6" height="3.5" fill="#ABABAB"/>
<rect x="417.70" y="294.0" width="1.6" height="4.2" fill="#ABABAB"/>
<rect x="282.70" y="296.9" width="1.6" height="1.3" fill="#FF0000"/>
<rect x="280.70" y="295.5" width="1.6" height="2.7" fill="#FF0000"/>
<rect x="279.70" y="296.2" width="1.6" height="2.0" fill="#FF0000"/>
<rect x="278.70" y="295.0" width="1.6" height="3.2" fill="#FF0000"/>
<rect x="276.70" y="296.7" width="1.6" height="1.5" fill="#FF0000"/>
<rect x="275.70" y="297.2" width="1.6" height="1.0" fill="#FF0000"/>
<rect x="271.70" y="295.7" width="1.6" height="2.5" fill="#FF0000"/>
<rect x="269.70" y="295.9" width="1.6" height="2.3" fill="#FF0000"/>
<rect x="268.70" y="295.4" width="1.6" height="2.8" fill="#FF0000"/>
<rect x="266.70" y="296.1" width="1.6" height="2.1" fill="#FF0000"/>
<rect x="265.70" y="296.8" width="1.6" height="1.4" fill="#FF0000"/>
<rect x="255.70" y="296.2" width="1.6" height="2.0" fill="#FF0000"/>
<rect x="253.70" y="296.2" width="1.6" height="2.0" fill="#FF0000"/>
<rect x="249.70" y="295.5" width="1.6" height="2.7" fill="#FF0000"/>
<rect x="248.70" y="295.1" width="1.6" height="3.1" fill="#FF0000"/>
<rect x="246.70" y="293.3" width="1.6" height="4.9" fill="#FF0000"/>
<rect x="243.70" y="295.8" width="1.6" height="2.4" fill="#FF0000"/>
<rect x="242.70" y="293.3" width="1.6" height="4.9" fill="#FF0000"/>
<rect x="241.70" y="296.6" width="1.6" height="1.6" fill="#FF0000"/>
<rect x="239.70" y="293.6" width="1.6" height="4.6" fill="#FF0000"/>
<rect x="235.70" y="295.6" width="1.6" height="2.6" fill="#FF0000"/>
<rect x="234.70" y="293.3" width="1.6" height="4.9" fill="#FF0000"/>
<rect x="232.70" y="295.9" width="1.6" height="2.3" fill="#FF0000"/>
<rect x="231.70" y="296.5" width="1.6" height="1.7" fill="#FF0000"/>
<rect x="229.70" y="294.2" width="1.6" height="4.0" fill="#FF0000"/>
<rect x="228.70" y="293.6" width="1.6" height="4.6" fill="#FF0000"/>
<rect x="213.70" y="295.9" width="1.6" height="2.3" fill="#FF0000"/>
<rect x="212.70" y="294.2" width="1.6" height="4.0" fill="#FF0000"/>
<rect x="210.70" y="293.7" width="1.6" height="4.5" fill="#FF0000"/>
<rect x="209.70" y="294.3" width="1.6" height="3.9" fill="#FF0000"/>
<rect x="198.70" y="289.5" width="1.6" height="8.7" fill="#FF0000"/>
<rect x="196.70" y="289.6" width="1.6" height="8.6" fill="#FF0000"/>
<rect x="195.70" y="289.5" width="1.6" height="8.7" fill="#FF0000"/>
<rect x="193.70" y="294.4" width="1.6" height="3.8" fill="#FF0000"/>
<rect x="189.70" y="294.6" width="1.6" height="3.6" fill="#FF0000"/>
<rect x="188.70" y="290.5" width="1.6" height="7.7" fill="#FF0000"/>
<rect x="186.70" y="290.2" width="1.6" height="8.0" fill="#FF0000"/>
<rect x="185.70" y="290.5" width="1.6" height="7.7" fill="#FF0000"/>
<rect x="168.70" y="293.5" width="1.6" height="4.7" fill="#FF0000"/>
<rect x="167.70" y="295.4" width="1.6" height="2.8" fill="#FF0000"/>
<rect x="165.70" y="294.9" width="1.6" height="3.3" fill="#FF0000"/>
<rect x="164.70" y="291.9" width="1.6" height="6.3" fill="#FF0000"/>
<rect x="162.70" y="293.6" width="1.6" height="4.6" fill="#FF0000"/>
<rect x="149.70" y="296.6" width="1.6" height="1.6" fill="#FF0000"/>
<rect x="134.70" y="294.3" width="1.6" height="3.9" fill="#FF0000"/>
<rect x="133.70" y="292.8" width="1.6" height="5.4" fill="#FF0000"/>
<rect x="130.70" y="295.2" width="1.6" height="3.0" fill="#FF0000"/>
<rect x="130.70" y="296.5" width="1.6" height="1.7" fill="#4A78F0"/>
<rect x="131.70" y="275.8" width="1.6" height="22.4" fill="#FF0000"/>
<rect x="132.70" y="293.0" width="1.6" height="5.2" fill="#FF0000"/>
<rect x="133.70" y="284.9" width="1.6" height="13.3" fill="#FF0000"/>
<rect x="134.70" y="286.7" width="1.6" height="11.5" fill="#FF0000"/>
<rect x="146.70" y="275.8" width="1.6" height="22.4" fill="#FF0000"/>
<rect x="147.70" y="279.8" width="1.6" height="18.4" fill="#FF0000"/>
<rect x="148.70" y="294.0" width="1.6" height="4.2" fill="#FF0000"/>
<rect x="149.70" y="291.9" width="1.6" height="6.3" fill="#119911"/>
<rect x="150.70" y="287.1" width="1.6" height="11.1" fill="#FF0000"/>
<rect x="161.70" y="295.9" width="1.6" height="2.3" fill="#FF0000"/>
<rect x="162.70" y="280.0" width="1.6" height="18.2" fill="#FF0000"/>
<rect x="163.70" y="279.8" width="1.6" height="18.4" fill="#FF0000"/>
<rect x="164.70" y="287.0" width="1.6" height="11.2" fill="#119911"/>
<rect x="165.70" y="288.6" width="1.6" height="9.6" fill="#FF0000"/>
<rect x="166.70" y="288.6" width="1.6" height="9.6" fill="#FF0000"/>
<rect x="168.70" y="288.6" width="1.6" height="9.6" fill="#FF0000"/>
<rect x="169.70" y="288.6" width="1.6" height="9.6" fill="#FF0000"/>
<rect x="181.70" y="287.1" width="1.6" height="11.1" fill="#4A78F0"/>
<rect x="180.70" y="295.0" width="1.6" height="3.2" fill="#119911"/>
<rect x="186.70" y="290.7" width="1.6" height="7.5" fill="#FF0000"/>
<rect x="187.70" y="276.4" width="1.6" height="21.8" fill="#FF0000"/>
<rect x="188.70" y="177.9" width="1.6" height="120.3" fill="#FF0000"/>
<rect x="189.70" y="277.9" width="1.6" height="20.3" fill="#FF0000"/>
<rect x="190.70" y="288.0" width="1.6" height="10.2" fill="#FF0000"/>
<rect x="192.70" y="292.0" width="1.6" height="6.2" fill="#FF0000"/>
<rect x="193.70" y="262.1" width="1.6" height="36.1" fill="#FF0000"/>
<rect x="194.70" y="259.3" width="1.6" height="38.9" fill="#FF0000"/>
<rect x="196.70" y="262.9" width="1.6" height="35.3" fill="#FF0000"/>
<rect x="197.70" y="283.6" width="1.6" height="14.6" fill="#FF0000"/>
<rect x="199.70" y="285.0" width="1.6" height="13.2" fill="#FF0000"/>
<rect x="200.70" y="185.0" width="1.6" height="113.2" fill="#FF0000"/>
<rect x="201.70" y="290.7" width="1.6" height="7.5" fill="#FF0000"/>
<rect x="193.70" y="290.0" width="1.6" height="8.2" fill="#119911"/>
<rect x="209.70" y="262.9" width="1.6" height="35.3" fill="#FF0000"/>
<rect x="210.70" y="292.0" width="1.6" height="6.2" fill="#FF0000"/>
<rect x="212.70" y="293.0" width="1.6" height="5.2" fill="#FF0000"/>
<rect x="213.70" y="293.5" width="1.6" height="4.7" fill="#FF0000"/>
<rect x="214.70" y="272.9" width="1.6" height="25.3" fill="#FF0000"/>
<rect x="228.70" y="289.8" width="1.6" height="8.4" fill="#FF0000"/>
<rect x="229.70" y="293.0" width="1.6" height="5.2" fill="#FF0000"/>
<rect x="232.70" y="289.3" width="1.6" height="8.9" fill="#FF0000"/>
<rect x="233.70" y="292.0" width="1.6" height="6.2" fill="#FF0000"/>
<rect x="234.70" y="270.3" width="1.6" height="27.9" fill="#FF0000"/>
<rect x="235.70" y="289.3" width="1.6" height="8.9" fill="#FF0000"/>
<rect x="239.70" y="290.2" width="1.6" height="8.0" fill="#FF0000"/>
<rect x="242.70" y="287.5" width="1.6" height="10.7" fill="#FF0000"/>
<rect x="243.70" y="272.1" width="1.6" height="26.1" fill="#FF0000"/>
<rect x="244.70" y="277.1" width="1.6" height="21.1" fill="#FF0000"/>
<rect x="246.70" y="289.3" width="1.6" height="8.9" fill="#119911"/>
<rect x="247.70" y="294.7" width="1.6" height="3.5" fill="#FF0000"/>
<rect x="248.70" y="294.7" width="1.6" height="3.5" fill="#FF0000"/>
<rect x="251.70" y="291.1" width="1.6" height="7.1" fill="#FF0000"/>
<rect x="252.70" y="247.7" width="1.6" height="50.5" fill="#FF0000"/>
<rect x="253.70" y="246.5" width="1.6" height="51.7" fill="#FF0000"/>
<rect x="254.70" y="245.0" width="1.6" height="53.2" fill="#FF0000"/>
<rect x="255.70" y="291.1" width="1.6" height="7.1" fill="#FF0000"/>
<rect x="259.70" y="291.0" width="1.6" height="7.2" fill="#FF0000"/>
<rect x="260.70" y="287.5" width="1.6" height="10.7" fill="#FF0000"/>
<rect x="266.70" y="292.6" width="1.6" height="5.6" fill="#FF0000"/>
<rect x="267.70" y="284.3" width="1.6" height="13.9" fill="#FF0000"/>
<rect x="268.70" y="292.5" width="1.6" height="5.7" fill="#119911"/>
<rect x="269.70" y="295.6" width="1.6" height="2.6" fill="#FF0000"/>
<rect x="271.70" y="295.6" width="1.6" height="2.6" fill="#FF0000"/>
<rect x="272.70" y="295.6" width="1.6" height="2.6" fill="#FF0000"/>
<rect x="276.70" y="278.9" width="1.6" height="19.3" fill="#FF0000"/>
<rect x="277.70" y="284.8" width="1.6" height="13.4" fill="#FF0000"/>
<rect x="278.70" y="285.5" width="1.6" height="12.7" fill="#FF0000"/>
<rect x="280.70" y="291.0" width="1.6" height="7.2" fill="#FF0000"/>
<rect x="282.70" y="278.9" width="1.6" height="19.3" fill="#FF0000"/>
<rect x="283.70" y="287.0" width="1.6" height="11.2" fill="#FF0000"/>
<rect x="407.70" y="290.9" width="1.6" height="7.3" fill="#ABABAB"/>
<rect x="412.70" y="288.0" width="1.6" height="10.2" fill="#ABABAB"/>
<rect x="415.70" y="290.9" width="1.6" height="7.3" fill="#ABABAB"/>
<rect x="417.70" y="292.8" width="1.6" height="5.4" fill="#ABABAB"/>
<rect x="418.70" y="284.3" width="1.6" height="13.9" fill="#ABABAB"/>
<rect x="420.70" y="289.4" width="1.6" height="8.8" fill="#ABABAB"/>
<rect x="421.70" y="277.7" width="1.6" height="20.5" fill="#ABABAB"/>
<rect x="422.70" y="289.4" width="1.6" height="8.8" fill="#ABABAB"/>
<rect x="423.70" y="262.0" width="1.6" height="36.2" fill="#ABABAB"/>
<rect x="423.70" y="275.9" width="1.6" height="22.3" fill="#ABABAB"/>
<rect x="427.70" y="290.9" width="1.6" height="7.3" fill="#ABABAB"/>
<rect x="434.70" y="291.2" width="1.6" height="7.0" fill="#ABABAB"/>
<rect x="436.70" y="284.3" width="1.6" height="13.9" fill="#ABABAB"/>
<rect x="437.70" y="284.3" width="1.6" height="13.9" fill="#ABABAB"/>
<rect x="439.70" y="290.9" width="1.6" height="7.3" fill="#ABABAB"/>
<rect x="447.70" y="289.8" width="1.6" height="8.4" fill="#ABABAB"/>
<rect x="577.70" y="295.1" width="1.6" height="3.1" fill="#FF0000"/>
<rect x="582.70" y="289.6" width="1.6" height="8.6" fill="#FF0000"/>
<rect x="612.70" y="287.4" width="1.6" height="10.8" fill="#ABABAB"/>
<rect x="419.70" y="294.9" width="1.6" height="3.3" fill="#ABABAB"/>
<rect x="424.70" y="289.3" width="1.6" height="8.9" fill="#ABABAB"/>
<rect x="435.70" y="291.2" width="1.6" height="7.0" fill="#ABABAB"/>
<rect x="436.70" y="286.2" width="1.6" height="12.0" fill="#ABABAB"/>
<polyline points="463.0,162.0 474.0,162.0" fill="none" stroke="#D6D6D6" stroke-width="1.3"/>
<polyline points="287.0,162.0 300.0,162.0" fill="none" stroke="#EEEEEE" stroke-width="1.3"/>
<polyline points="292.0,296.6 301.5,296.6" fill="none" stroke="#BDBDBD" stroke-width="1.3"/>
<polyline points="349.0,296.6 360.0,296.2 366.0,296.0 374.0,296.6" fill="none" stroke="#BDBDBD" stroke-width="1.3"/>
<polyline points="455.0,296.6 470.0,296.6" fill="none" stroke="#BDBDBD" stroke-width="1.3"/>
<polyline points="308.0,296.6 324.0,296.6" fill="none" stroke="#E6E6E6" stroke-width="1.3"/>
<polyline points="377.0,296.6 403.0,296.6" fill="none" stroke="#E6E6E6" stroke-width="1.3"/>
<line x1="131.3" y1="40.9" x2="131.3" y2="167.8" stroke="#BDBDBD" stroke-width="1.6" stroke-dasharray="3.6,4.65"/>
<line x1="591.0" y1="40.9" x2="591.0" y2="167.8" stroke="#383838" stroke-width="1.8" stroke-dasharray="3.6,4.65"/>
<line x1="131.3" y1="175.7" x2="131.3" y2="302.2" stroke="#BDBDBD" stroke-width="1.6" stroke-dasharray="3.6,4.65"/>
<line x1="591.0" y1="175.7" x2="591.0" y2="302.2" stroke="#383838" stroke-width="1.8" stroke-dasharray="3.6,4.65"/>
<rect x="55.3" y="38.6" width="580.7" height="129.5" fill="none" stroke="#000" stroke-width="1.5"/>
<line x1="57.5" y1="168.1" x2="57.5" y2="169.7" stroke="#000" stroke-width="1"/>
<line x1="146.9" y1="168.1" x2="146.9" y2="169.7" stroke="#000" stroke-width="1"/>
<line x1="236.3" y1="168.1" x2="236.3" y2="169.7" stroke="#000" stroke-width="1"/>
<line x1="325.8" y1="168.1" x2="325.8" y2="169.7" stroke="#000" stroke-width="1"/>
<line x1="415.2" y1="168.1" x2="415.2" y2="169.7" stroke="#000" stroke-width="1"/>
<line x1="504.6" y1="168.1" x2="504.6" y2="169.7" stroke="#000" stroke-width="1"/>
<line x1="594.0" y1="168.1" x2="594.0" y2="169.7" stroke="#000" stroke-width="1"/>
<rect x="55.3" y="173.4" width="580.7" height="129.1" fill="none" stroke="#000" stroke-width="1.5"/>
<line x1="57.5" y1="302.5" x2="57.5" y2="304.1" stroke="#000" stroke-width="1"/>
<line x1="146.9" y1="302.5" x2="146.9" y2="304.1" stroke="#000" stroke-width="1"/>
<line x1="236.3" y1="302.5" x2="236.3" y2="304.1" stroke="#000" stroke-width="1"/>
<line x1="325.8" y1="302.5" x2="325.8" y2="304.1" stroke="#000" stroke-width="1"/>
<line x1="415.2" y1="302.5" x2="415.2" y2="304.1" stroke="#000" stroke-width="1"/>
<line x1="504.6" y1="302.5" x2="504.6" y2="304.1" stroke="#000" stroke-width="1"/>
<line x1="594.0" y1="302.5" x2="594.0" y2="304.1" stroke="#000" stroke-width="1"/>
<line x1="48.3" y1="163.4" x2="55.3" y2="163.4" stroke="#000" stroke-width="1"/>
<text x="39.8" y="163.4" font-size="11" text-anchor="middle" font-weight="normal" font-style="normal" fill="#000" transform="rotate(-90 39.8 163.4)">0</text>
<line x1="48.3" y1="134.2" x2="55.3" y2="134.2" stroke="#000" stroke-width="1"/>
<text x="39.8" y="134.2" font-size="11" text-anchor="middle" font-weight="normal" font-style="normal" fill="#000" transform="rotate(-90 39.8 134.2)">100</text>
<line x1="48.3" y1="105.0" x2="55.3" y2="105.0" stroke="#000" stroke-width="1"/>
<text x="39.8" y="105.0" font-size="11" text-anchor="middle" font-weight="normal" font-style="normal" fill="#000" transform="rotate(-90 39.8 105.0)">200</text>
<line x1="48.3" y1="75.8" x2="55.3" y2="75.8" stroke="#000" stroke-width="1"/>
<text x="39.8" y="75.8" font-size="11" text-anchor="middle" font-weight="normal" font-style="normal" fill="#000" transform="rotate(-90 39.8 75.8)">300</text>
<line x1="48.3" y1="46.6" x2="55.3" y2="46.6" stroke="#000" stroke-width="1"/>
<text x="39.8" y="46.6" font-size="11" text-anchor="middle" font-weight="normal" font-style="normal" fill="#000" transform="rotate(-90 39.8 46.6)">400</text>
<line x1="48.3" y1="297.9" x2="55.3" y2="297.9" stroke="#000" stroke-width="1"/>
<text x="39.8" y="297.9" font-size="11" text-anchor="middle" font-weight="normal" font-style="normal" fill="#000" transform="rotate(-90 39.8 297.9)">0</text>
<line x1="48.3" y1="268.8" x2="55.3" y2="268.8" stroke="#000" stroke-width="1"/>
<text x="39.8" y="268.8" font-size="11" text-anchor="middle" font-weight="normal" font-style="normal" fill="#000" transform="rotate(-90 39.8 268.8)">100</text>
<line x1="48.3" y1="239.7" x2="55.3" y2="239.7" stroke="#000" stroke-width="1"/>
<text x="39.8" y="239.7" font-size="11" text-anchor="middle" font-weight="normal" font-style="normal" fill="#000" transform="rotate(-90 39.8 239.7)">200</text>
<line x1="48.3" y1="210.5" x2="55.3" y2="210.5" stroke="#000" stroke-width="1"/>
<text x="39.8" y="210.5" font-size="11" text-anchor="middle" font-weight="normal" font-style="normal" fill="#000" transform="rotate(-90 39.8 210.5)">300</text>
<line x1="48.3" y1="181.4" x2="55.3" y2="181.4" stroke="#000" stroke-width="1"/>
<text x="39.8" y="181.4" font-size="11" text-anchor="middle" font-weight="normal" font-style="normal" fill="#000" transform="rotate(-90 39.8 181.4)">400</text>
<line x1="636" y1="163.5" x2="642.8" y2="163.5" stroke="#000" stroke-width="1"/>
<text x="660.1" y="163.5" font-size="11" text-anchor="middle" font-weight="normal" font-style="normal" fill="#000" transform="rotate(-90 660.1 163.5)">0</text>
<line x1="636" y1="144.7" x2="642.8" y2="144.7" stroke="#000" stroke-width="1"/>
<line x1="636" y1="125.8" x2="642.8" y2="125.8" stroke="#000" stroke-width="1"/>
<text x="660.1" y="125.8" font-size="11" text-anchor="middle" font-weight="normal" font-style="normal" fill="#000" transform="rotate(-90 660.1 125.8)">200</text>
<line x1="636" y1="107.0" x2="642.8" y2="107.0" stroke="#000" stroke-width="1"/>
<line x1="636" y1="88.1" x2="642.8" y2="88.1" stroke="#000" stroke-width="1"/>
<text x="660.1" y="88.1" font-size="11" text-anchor="middle" font-weight="normal" font-style="normal" fill="#000" transform="rotate(-90 660.1 88.1)">400</text>
<line x1="636" y1="69.2" x2="642.8" y2="69.2" stroke="#000" stroke-width="1"/>
<line x1="636" y1="50.4" x2="642.8" y2="50.4" stroke="#000" stroke-width="1"/>
<text x="660.1" y="50.4" font-size="11" text-anchor="middle" font-weight="normal" font-style="normal" fill="#000" transform="rotate(-90 660.1 50.4)">600</text>
<line x1="636" y1="297.9" x2="642.8" y2="297.9" stroke="#000" stroke-width="1"/>
<text x="660.1" y="297.9" font-size="11" text-anchor="middle" font-weight="normal" font-style="normal" fill="#000" transform="rotate(-90 660.1 297.9)">0</text>
<line x1="636" y1="279.2" x2="642.8" y2="279.2" stroke="#000" stroke-width="1"/>
<line x1="636" y1="260.5" x2="642.8" y2="260.5" stroke="#000" stroke-width="1"/>
<text x="660.1" y="260.5" font-size="11" text-anchor="middle" font-weight="normal" font-style="normal" fill="#000" transform="rotate(-90 660.1 260.5)">200</text>
<line x1="636" y1="241.7" x2="642.8" y2="241.7" stroke="#000" stroke-width="1"/>
<line x1="636" y1="223.0" x2="642.8" y2="223.0" stroke="#000" stroke-width="1"/>
<text x="660.1" y="223.0" font-size="11" text-anchor="middle" font-weight="normal" font-style="normal" fill="#000" transform="rotate(-90 660.1 223.0)">400</text>
<line x1="636" y1="204.3" x2="642.8" y2="204.3" stroke="#000" stroke-width="1"/>
<line x1="636" y1="185.6" x2="642.8" y2="185.6" stroke="#000" stroke-width="1"/>
<text x="660.1" y="185.6" font-size="11" text-anchor="middle" font-weight="normal" font-style="normal" fill="#000" transform="rotate(-90 660.1 185.6)">600</text>
<text x="78.9" y="59.2" font-size="13.7" text-anchor="start" font-weight="bold" font-style="normal" fill="#000">Shoot</text>
<text x="79.2" y="193.9" font-size="13.7" text-anchor="start" font-weight="bold" font-style="normal" fill="#000">Root</text>
<text x="16.1" y="167.0" font-size="19.3" text-anchor="middle" font-weight="normal" font-style="normal" fill="#000" transform="rotate(-90 16.1 167.0)">RNA count</text>
<text x="683.2" y="172.3" font-size="19.3" text-anchor="middle" font-weight="normal" font-style="normal" fill="#000" transform="rotate(-90 683.2 172.3)">Ribo count</text>
<text x="69.5" y="331.5" font-size="16.3" text-anchor="middle" font-weight="normal" font-style="normal" fill="#000">1</text>
<polygon points="90.3,325.9 94.2,322.4 124.6,322.4 124.6,329.4 94.2,329.4" fill="#fff" stroke="#000" stroke-width="0.9"/>
<polyline points="124.6,325.9 127.9,322.4 131.2,325.9" fill="none" stroke="#000" stroke-width="0.9"/>
<rect x="131.2" y="322.4" width="6.5" height="7" fill="#000" stroke="#000" stroke-width="0.9"/>
<polyline points="137.7,325.9 141.8,322.4 146.0,325.9" fill="none" stroke="#000" stroke-width="0.9"/>
<rect x="146.0" y="322.4" width="7.9" height="7" fill="#000" stroke="#000" stroke-width="0.9"/>
<polyline points="153.9,325.9 158.1,322.4 162.2,325.9" fill="none" stroke="#000" stroke-width="0.9"/>
<rect x="162.2" y="322.4" width="10.8" height="7" fill="#000" stroke="#000" stroke-width="0.9"/>
<polyline points="173.0,325.9 177.2,322.4 181.3,325.9" fill="none" stroke="#000" stroke-width="0.9"/>
<rect x="181.3" y="322.4" width="21.7" height="7" fill="#000" stroke="#000" stroke-width="0.9"/>
<polyline points="203.0,325.9 207.1,322.4 211.1,325.9" fill="none" stroke="#000" stroke-width="0.9"/>
<rect x="211.1" y="322.4" width="5.7" height="7" fill="#000" stroke="#000" stroke-width="0.9"/>
<polyline points="216.8,325.9 222.9,322.4 228.9,325.9" fill="none" stroke="#000" stroke-width="0.9"/>
<rect x="228.9" y="322.4" width="57.2" height="7" fill="#000" stroke="#000" stroke-width="0.9"/>
<polyline points="286.1,325.9 424.1,322.4 562.1,325.9" fill="none" stroke="#000" stroke-width="0.9"/>
<rect x="562.1" y="322.4" width="29.8" height="7" fill="#000" stroke="#000" stroke-width="0.9"/>
<rect x="591.9" y="322.4" width="9.8" height="7" fill="#D3D3D3" stroke="#000" stroke-width="0.9"/>
<text x="69.5" y="347.3" font-size="16.3" text-anchor="middle" font-weight="normal" font-style="normal" fill="#000">2</text>
<polygon points="90.3,341.7 94.2,338.2 124.6,338.2 124.6,345.2 94.2,345.2" fill="#fff" stroke="#000" stroke-width="0.9"/>
<polyline points="124.6,341.7 127.9,338.2 131.2,341.7" fill="none" stroke="#000" stroke-width="0.9"/>
<rect x="131.2" y="338.2" width="6.5" height="7" fill="#000" stroke="#000" stroke-width="0.9"/>
<polyline points="137.7,341.7 141.8,338.2 146.0,341.7" fill="none" stroke="#000" stroke-width="0.9"/>
<rect x="146.0" y="338.2" width="7.9" height="7" fill="#000" stroke="#000" stroke-width="0.9"/>
<polyline points="153.9,341.7 158.1,338.2 162.2,341.7" fill="none" stroke="#000" stroke-width="0.9"/>
<rect x="162.2" y="338.2" width="10.8" height="7" fill="#000" stroke="#000" stroke-width="0.9"/>
<polyline points="173.0,341.7 177.2,338.2 181.3,341.7" fill="none" stroke="#000" stroke-width="0.9"/>
<rect x="181.3" y="338.2" width="21.7" height="7" fill="#000" stroke="#000" stroke-width="0.9"/>
<polyline points="203.0,341.7 207.1,338.2 211.1,341.7" fill="none" stroke="#000" stroke-width="0.9"/>
<rect x="211.1" y="338.2" width="5.7" height="7" fill="#000" stroke="#000" stroke-width="0.9"/>
<polyline points="216.8,341.7 222.9,338.2 228.9,341.7" fill="none" stroke="#000" stroke-width="0.9"/>
<rect x="228.9" y="338.2" width="57.2" height="7" fill="#000" stroke="#000" stroke-width="0.9"/>
<polyline points="286.1,341.7 347.2,338.2 408.3,341.7" fill="none" stroke="#000" stroke-width="0.9"/>
<rect x="408.3" y="338.2" width="30.6" height="7" fill="#000" stroke="#000" stroke-width="0.9"/>
<rect x="438.9" y="338.2" width="7.2" height="7" fill="#D3D3D3" stroke="#000" stroke-width="0.9"/>
<text x="69.7" y="365.8" font-size="17.5" text-anchor="middle" font-weight="bold" font-style="normal" fill="#000">3</text>
<polygon points="108.4,359.3 112.4,355.8 137.5,355.8 137.5,362.8 112.4,362.8" fill="#fff" stroke="#000" stroke-width="0.9"/><rect x="131.2" y="355.8" width="6.3" height="7" fill="#000" stroke="#000" stroke-width="0.9"/>
<polyline points="137.5,359.3 141.8,355.8 146.0,359.3" fill="none" stroke="#000" stroke-width="0.9"/>
<rect x="146.0" y="355.8" width="7.9" height="7" fill="#000" stroke="#000" stroke-width="0.9"/>
<polyline points="153.9,359.3 158.1,355.8 162.2,359.3" fill="none" stroke="#000" stroke-width="0.9"/>
<rect x="162.2" y="355.8" width="10.8" height="7" fill="#000" stroke="#000" stroke-width="0.9"/>
<polyline points="173.0,359.3 177.2,355.8 181.3,359.3" fill="none" stroke="#000" stroke-width="0.9"/>
<rect x="181.3" y="355.8" width="21.7" height="7" fill="#000" stroke="#000" stroke-width="0.9"/>
<polyline points="203.0,359.3 207.1,355.8 211.1,359.3" fill="none" stroke="#000" stroke-width="0.9"/>
<rect x="211.1" y="355.8" width="5.7" height="7" fill="#000" stroke="#000" stroke-width="0.9"/>
<polyline points="216.8,359.3 222.9,355.8 228.9,359.3" fill="none" stroke="#000" stroke-width="0.9"/>
<rect x="228.9" y="355.8" width="57.2" height="7" fill="#000" stroke="#000" stroke-width="0.9"/>
<polyline points="286.1,359.3 424.1,355.8 562.1,359.3" fill="none" stroke="#000" stroke-width="0.9"/>
<rect x="562.1" y="355.8" width="29.8" height="7" fill="#000" stroke="#000" stroke-width="0.9"/>
<rect x="591.9" y="355.8" width="4.6" height="7" fill="#D3D3D3" stroke="#000" stroke-width="0.9"/>
<text x="69.5" y="383.1" font-size="16.3" text-anchor="middle" font-weight="normal" font-style="normal" fill="#000">4</text>
<polygon points="97.2,377.4 101.2,373.9 124.8,373.9 124.8,380.9 101.2,380.9" fill="#fff" stroke="#000" stroke-width="0.9"/><rect x="108.0" y="373.9" width="16.8" height="7" fill="#000" stroke="#000" stroke-width="0.9"/>
<polyline points="124.8,377.4 128.0,373.9 131.2,377.4" fill="none" stroke="#000" stroke-width="0.9"/>
<rect x="131.2" y="373.9" width="6.5" height="7" fill="#000" stroke="#000" stroke-width="0.9"/>
<polyline points="137.7,377.4 141.8,373.9 146.0,377.4" fill="none" stroke="#000" stroke-width="0.9"/>
<rect x="146.0" y="373.9" width="7.9" height="7" fill="#000" stroke="#000" stroke-width="0.9"/>
<polyline points="153.9,377.4 158.1,373.9 162.2,377.4" fill="none" stroke="#000" stroke-width="0.9"/>
<rect x="162.2" y="373.9" width="10.8" height="7" fill="#000" stroke="#000" stroke-width="0.9"/>
<polyline points="173.0,377.4 177.2,373.9 181.3,377.4" fill="none" stroke="#000" stroke-width="0.9"/>
<rect x="181.3" y="373.9" width="21.7" height="7" fill="#000" stroke="#000" stroke-width="0.9"/>
<polyline points="203.0,377.4 207.1,373.9 211.1,377.4" fill="none" stroke="#000" stroke-width="0.9"/>
<rect x="211.1" y="373.9" width="5.7" height="7" fill="#000" stroke="#000" stroke-width="0.9"/>
<polyline points="216.8,377.4 222.9,373.9 228.9,377.4" fill="none" stroke="#000" stroke-width="0.9"/>
<rect x="228.9" y="373.9" width="57.2" height="7" fill="#000" stroke="#000" stroke-width="0.9"/>
<polyline points="286.1,377.4 347.2,373.9 408.3,377.4" fill="none" stroke="#000" stroke-width="0.9"/>
<rect x="408.3" y="373.9" width="30.6" height="7" fill="#000" stroke="#000" stroke-width="0.9"/>
<rect x="438.9" y="373.9" width="14.6" height="7" fill="#D3D3D3" stroke="#000" stroke-width="0.9"/>
<line x1="57.5" y1="399.7" x2="594" y2="399.7" stroke="#000" stroke-width="1.2"/>
<line x1="57.5" y1="399.7" x2="57.5" y2="406.4" stroke="#000" stroke-width="1.2"/>
<text x="57.5" y="423.4" font-size="10.8" text-anchor="middle" font-weight="normal" font-style="normal" fill="#000">11625000</text>
<line x1="146.9" y1="399.7" x2="146.9" y2="406.4" stroke="#000" stroke-width="1.2"/>
<text x="146.9" y="423.4" font-size="10.8" text-anchor="middle" font-weight="normal" font-style="normal" fill="#000">11626000</text>
<line x1="236.3" y1="399.7" x2="236.3" y2="406.4" stroke="#000" stroke-width="1.2"/>
<text x="236.3" y="423.4" font-size="10.8" text-anchor="middle" font-weight="normal" font-style="normal" fill="#000">11627000</text>
<line x1="325.8" y1="399.7" x2="325.8" y2="406.4" stroke="#000" stroke-width="1.2"/>
<text x="325.8" y="423.4" font-size="10.8" text-anchor="middle" font-weight="normal" font-style="normal" fill="#000">11628000</text>
<line x1="415.2" y1="399.7" x2="415.2" y2="406.4" stroke="#000" stroke-width="1.2"/>
<text x="415.2" y="423.4" font-size="10.8" text-anchor="middle" font-weight="normal" font-style="normal" fill="#000">11629000</text>
<line x1="504.6" y1="399.7" x2="504.6" y2="406.4" stroke="#000" stroke-width="1.2"/>
<text x="504.6" y="423.4" font-size="10.8" text-anchor="middle" font-weight="normal" font-style="normal" fill="#000">11630000</text>
<line x1="594.0" y1="399.7" x2="594.0" y2="406.4" stroke="#000" stroke-width="1.2"/>
<text x="594.0" y="423.4" font-size="10.8" text-anchor="middle" font-weight="normal" font-style="normal" fill="#000">11631000</text></g>
<text x="0.2" y="476.3" font-size="19" text-anchor="start" font-weight="bold" font-style="normal" fill="#000">D</text>
<text x="135.6" y="478" font-size="19.2"><tspan font-style="italic">AT4G21910</tspan> plotted with isoform 4 coordinates</text>
<g transform="translate(2.9,451.6)"><polygon points="95.1,162.0 102.0,160.8 106.0,159.8 106.5,159.4 107.0,159.5 107.6,160.4 108.1,158.7 108.6,158.6 109.2,158.6 109.7,157.2 110.2,157.9 110.7,154.9 111.2,152.3 111.7,148.9 112.2,149.2 112.7,146.5 113.2,146.5 113.7,145.3 114.2,146.9 114.7,145.9 115.2,143.4 115.7,145.6 116.2,143.6 116.8,138.6 117.3,131.3 117.9,124.7 118.5,118.0 119.0,114.1 119.6,110.8 120.2,109.5 120.7,106.6 121.3,104.7 121.8,104.6 122.4,104.2 123.0,104.4 123.5,103.8 124.0,106.0 124.5,155.6 125.0,156.0 125.5,156.4 126.0,158.1 126.5,157.6 127.0,158.0 127.6,158.6 128.1,158.3 128.7,158.9 129.2,158.4 129.8,158.7 130.4,156.7 131.0,156.0 131.3,102.9 132.0,93.8 132.6,92.6 133.2,90.0 133.7,86.9 134.3,83.2 134.9,80.1 135.5,75.2 136.1,72.0 136.6,73.8 137.0,77.2 137.0,162.0" fill="#FFFDB0" stroke="none"/>
<polygon points="145.6,162.0 145.6,81.7 146.2,77.7 146.8,73.7 147.3,72.4 147.9,68.2 148.4,63.4 149.0,60.1 149.6,54.2 150.1,50.0 150.6,49.4 151.1,47.0 151.6,44.0 152.1,45.5 152.5,50.0 153.2,60.6 153.9,70.0 153.9,162.0" fill="#FFFDB0" stroke="none"/>
<polygon points="162.2,162.0 162.2,63.6 162.7,62.5 163.2,64.4 163.7,62.9 164.3,65.6 164.8,70.0 165.4,71.1 166.0,74.2 166.6,75.2 167.1,79.1 167.6,81.8 168.2,83.2 168.7,86.0 169.2,89.0 169.7,93.8 170.2,90.8 170.8,90.2 171.3,86.3 171.8,88.6 172.3,89.3 172.3,162.0" fill="#FFFDB0" stroke="none"/>
<polygon points="181.3,162.0 181.3,83.2 181.8,80.6 182.3,79.4 182.8,78.7 183.3,76.5 183.8,75.4 184.3,75.7 184.8,75.9 185.3,73.4 185.8,73.9 186.3,73.0 186.8,75.2 187.3,76.9 187.8,80.2 188.3,82.9 188.8,83.2 189.3,86.3 189.9,87.5 190.4,87.8 190.9,84.6 191.4,83.5 191.9,81.7 192.6,77.2 193.4,66.7 193.9,69.6 194.4,74.2 195.0,70.9 195.6,68.9 196.1,70.8 196.6,70.8 197.1,70.4 197.6,69.6 198.2,71.1 198.7,69.7 199.3,73.3 199.9,78.7 200.4,82.9 200.9,87.8 201.4,94.1 202.0,98.3 202.4,107.4 202.4,162.0" fill="#FFFDB0" stroke="none"/>
<polygon points="210.7,162.0 210.7,105.9 211.2,107.3 211.7,106.7 212.2,108.9 212.7,112.4 213.2,112.0 213.7,114.9 214.3,112.7 215.0,111.9 215.7,116.4 216.0,162.0 220.0,162.0" fill="#FFFDB0" stroke="none"/>
<polygon points="229.3,162.0 229.3,122.5 229.8,121.0 230.3,117.9 230.8,115.4 231.3,113.3 231.8,111.9 232.3,112.6 232.8,114.7 233.3,117.9 233.8,116.6 234.4,114.1 234.9,113.4 235.4,115.7 235.9,117.0 236.4,119.4 236.9,118.3 237.4,118.8 237.9,116.4 238.4,114.1 238.9,112.1 239.4,109.6 239.9,112.0 240.4,111.2 240.9,113.4 241.4,112.9 241.9,115.6 242.4,114.9 242.9,114.9 243.4,112.1 243.9,111.9 244.4,111.0 244.9,112.6 245.4,111.9 245.9,114.2 246.4,113.0 246.9,114.9 247.4,117.3 247.9,118.0 248.4,117.9 248.9,118.2 249.4,117.7 249.9,117.9 250.4,118.5 250.9,120.0 251.4,123.2 251.9,124.4 252.4,121.9 252.9,122.5 253.4,120.1 254.0,115.7 254.5,113.4 255.0,111.4 255.5,107.7 256.0,104.4 256.5,100.7 257.0,97.4 257.5,95.3 258.0,91.9 258.5,85.9 259.0,83.2 259.5,80.4 260.0,79.4 260.5,77.2 261.0,77.5 261.5,76.1 262.0,75.0 262.5,73.8 263.0,75.2 263.5,73.4 264.0,73.8 264.5,74.5 265.0,77.2 265.5,80.5 266.0,85.1 266.5,89.3 267.0,90.5 267.5,93.3 268.0,96.8 268.5,97.9 269.0,100.0 269.5,101.3 270.0,102.7 270.5,106.0 271.0,108.9 271.5,111.3 272.0,112.9 272.5,112.7 273.0,112.4 273.5,111.7 274.0,110.4 274.5,106.6 275.1,101.3 275.6,98.3 276.1,96.9 276.6,96.9 277.1,98.3 277.6,100.5 278.1,100.9 278.6,101.3 279.1,101.7 279.6,97.9 280.1,98.3 280.6,97.7 281.1,96.2 281.6,95.3 282.2,95.2 282.8,93.8 283.4,94.8 283.9,96.8 284.4,100.3 284.9,99.6 285.4,102.9 285.7,162.0" fill="#FFFDB0" stroke="none"/>
<polygon points="310.0,162.0 313.0,160.6 316.0,160.1 319.0,160.6 322.0,162.0" fill="#FFFDB0" stroke="none"/>
<polygon points="408.4,162.0 408.7,146.6 409.2,143.2 409.7,140.2 410.2,136.0 410.9,136.0 411.5,133.5 412.0,134.0 412.5,133.8 413.0,133.0 413.5,134.5 414.0,135.4 414.5,134.4 415.0,136.0 415.5,136.0 416.1,138.2 416.6,139.0 417.2,138.6 417.8,139.8 418.3,141.2 418.8,141.9 419.3,141.5 419.8,142.2 420.3,141.9 420.8,142.8 421.4,141.3 421.9,139.7 422.4,136.4 423.0,136.0 423.6,134.5 424.1,133.7 424.7,131.5 425.3,128.5 425.9,128.2 426.5,126.3 427.0,126.4 427.6,124.7 428.2,125.9 428.8,126.4 429.3,128.6 429.9,128.5 430.4,129.0 431.0,132.7 431.6,132.2 432.1,135.3 432.7,137.3 433.2,138.6 433.8,139.5 434.4,142.0 434.9,143.2 435.5,143.1 436.1,144.1 436.6,144.3 437.2,145.9 437.8,144.3 438.3,144.0 438.9,145.8 439.4,145.7 439.9,147.4 440.4,146.5 440.9,146.9 441.4,149.6 441.9,148.9 442.5,150.3 443.0,150.6 443.6,152.9 444.2,152.6 444.7,154.1 445.2,157.2 445.7,158.7 448.0,160.2 451.7,160.9 454.0,160.2 457.0,161.3 461.5,162.0" fill="#FFFDB0" stroke="none"/>
<polygon points="482.6,162.0 490.0,160.4 495.0,161.2 500.0,160.6 505.0,161.2 508.3,157.2 508.8,156.0 509.4,156.3 509.9,157.1 510.5,157.1 511.0,155.5 511.6,156.5 512.1,155.0 512.6,155.4 513.2,154.5 513.8,153.9 514.3,154.9 514.8,155.1 515.4,156.4 515.9,156.6 516.5,156.4 517.0,156.0 517.5,157.7 518.1,156.0 518.6,156.0 519.2,157.1 519.8,156.9 520.3,157.9 523.3,160.2 529.4,161.6 533.9,159.6 534.4,158.7 534.9,159.3 535.4,160.0 535.9,159.6 536.4,159.0 537.0,160.6 537.5,161.0 538.0,159.5 538.5,158.3 539.0,158.2 539.5,160.7 540.0,159.6 540.5,157.9 541.0,159.5 541.5,158.8 542.0,157.6 542.5,158.7 543.0,157.5 543.5,155.8 544.1,155.9 544.6,156.6 545.1,155.0 545.6,157.1 546.2,155.1 546.7,155.6 547.2,154.8 547.8,154.7 548.3,156.7 548.9,156.4 549.4,157.1 550.0,157.4 550.5,157.2 551.0,158.4 551.5,159.2 552.0,158.7 552.5,157.5 553.0,158.6 553.5,158.0 554.0,157.8 554.5,159.5 555.0,159.9 555.5,160.2 556.0,158.3 556.5,158.3 557.0,158.2 557.5,159.0 558.0,158.2 558.5,158.1 559.0,158.3 559.5,157.2 560.1,156.3 560.8,156.0 561.6,116.4 562.2,114.3 562.8,111.6 563.3,106.2 563.9,104.4 564.5,104.5 565.0,102.8 565.5,99.8 566.1,99.8 566.6,102.2 567.1,105.2 567.6,107.4 568.1,107.1 568.6,104.0 569.1,102.9 569.7,104.2 570.2,106.3 570.8,107.2 571.4,107.4 571.9,111.7 572.4,113.3 572.9,116.4 573.4,118.9 573.9,119.6 574.4,122.5 574.9,124.7 575.4,126.5 575.9,127.4 576.4,128.5 576.9,126.2 577.4,122.5 578.0,117.1 578.5,114.6 579.1,110.4 579.7,104.4 580.3,103.9 580.9,100.7 581.4,99.6 582.0,96.8 582.5,93.8 583.0,93.0 583.5,89.3 584.0,87.3 584.5,83.2 585.4,77.5 586.0,82.9 586.5,89.3 587.0,92.0 587.5,97.1 588.0,101.3 588.5,105.5 589.0,110.2 589.5,113.4 590.0,116.4 590.5,118.1 591.0,122.5 591.5,126.4 592.0,127.2 592.5,131.5 593.0,136.4 593.5,138.6 594.0,143.6 594.5,145.1 595.0,148.5 595.5,149.6 596.0,149.0 596.5,149.5 597.0,151.1 597.6,152.3 598.1,154.0 598.7,155.5 599.3,155.6 599.9,156.9 600.5,158.5 601.0,157.9 601.6,158.7 603.8,160.9 606.0,162.0" fill="#FFFDB0" stroke="none"/>
<polygon points="96.6,296.6 107.0,296.9 110.9,292.7 111.4,291.3 111.9,285.9 112.4,284.4 112.9,283.4 113.4,284.2 113.9,283.4 114.4,284.6 114.9,284.1 115.4,283.6 115.9,279.1 116.5,275.6 117.0,270.0 117.5,264.5 118.1,258.1 118.7,252.7 119.2,247.4 119.8,243.9 120.3,239.6 120.9,232.9 121.5,229.3 122.0,226.8 122.6,223.6 123.2,218.6 123.7,215.0 124.5,279.1 125.0,279.8 125.5,279.2 126.0,280.6 126.5,278.4 127.1,276.0 127.7,277.9 128.3,279.8 128.9,280.7 129.4,279.5 129.9,282.9 130.5,282.1 131.3,215.7 132.0,202.2 132.5,202.2 133.0,201.9 133.5,202.2 134.1,200.1 134.6,196.1 135.1,196.6 135.6,196.6 136.1,196.9 136.7,202.2 136.7,296.6" fill="#FFFDB0" stroke="none"/>
<polygon points="145.6,296.6 145.6,208.2 146.1,205.7 146.6,200.8 147.1,199.1 147.6,196.2 148.1,192.8 148.6,190.1 149.1,190.2 149.6,188.8 150.1,186.3 150.6,183.9 151.1,182.8 151.6,180.1 152.1,179.5 152.6,186.1 153.2,193.1 153.9,194.6 153.9,296.6" fill="#FFFDB0" stroke="none"/>
<polygon points="162.2,296.6 162.2,197.6 162.7,198.3 163.2,198.3 163.7,196.9 164.2,198.6 164.7,199.9 165.2,202.2 165.7,202.8 166.2,205.6 166.7,206.7 167.2,211.5 167.7,212.6 168.2,217.2 168.7,222.6 169.2,224.8 169.7,230.8 170.5,217.2 171.1,215.2 171.6,215.0 172.3,217.2 172.3,296.6" fill="#FFFDB0" stroke="none"/>
<polygon points="181.3,296.6 181.3,215.7 182.1,211.2 182.6,209.4 183.1,209.8 183.6,208.2 184.1,205.2 184.6,202.8 185.1,200.7 185.7,200.3 186.3,199.1 186.8,200.4 187.3,204.9 187.8,206.7 188.3,206.6 188.8,208.7 189.3,209.7 189.8,210.0 190.3,210.8 190.8,212.7 191.4,210.5 191.9,208.2 192.4,205.0 192.9,201.8 193.4,199.1 193.9,201.4 194.4,204.3 194.9,206.7 195.4,205.2 195.9,204.8 196.4,205.2 196.9,206.6 197.4,207.6 197.9,208.2 198.4,203.4 199.0,198.4 199.6,205.1 200.2,209.7 200.9,215.7 201.4,220.6 202.0,224.8 202.4,296.6" fill="#FFFDB0" stroke="none"/>
<polygon points="210.4,296.6 210.4,230.8 210.9,231.6 211.4,229.5 211.9,230.1 212.5,233.6 213.1,236.6 213.7,238.4 214.2,241.6 214.7,241.8 215.2,244.4 216.0,247.4 216.0,296.6 221.0,296.6" fill="#FFFDB0" stroke="none"/>
<polygon points="229.3,296.6 229.3,255.0 229.8,251.4 230.3,248.9 230.8,247.7 231.3,243.1 231.8,241.4 232.3,245.9 232.8,248.6 233.3,250.4 233.8,248.8 234.4,248.6 234.9,248.9 235.4,250.1 235.9,249.2 236.4,250.4 236.9,248.7 237.4,250.4 237.9,248.9 238.4,250.2 238.9,252.8 239.4,253.4 239.9,254.3 240.4,257.2 240.9,259.5 241.4,259.1 241.9,256.1 242.4,256.5 242.9,255.1 243.4,256.0 243.9,255.0 244.4,257.0 244.9,257.9 245.4,257.2 245.9,256.3 246.4,257.8 246.9,258.0 247.4,259.3 247.9,259.0 248.4,259.5 248.9,260.6 249.4,259.6 249.9,261.0 250.4,260.7 250.9,261.8 251.4,264.0 252.1,264.9 252.7,268.5 253.2,267.2 253.7,265.5 254.2,262.0 254.7,258.7 255.2,255.0 255.7,250.4 256.2,247.0 256.7,244.4 257.2,240.5 257.7,239.4 258.2,235.3 258.7,233.8 259.2,230.6 259.7,226.3 260.3,220.1 260.9,214.9 261.5,211.2 262.0,211.1 262.5,208.1 263.0,206.7 263.5,207.0 264.0,205.2 264.5,205.2 265.0,206.6 265.5,208.2 266.0,209.7 266.5,211.5 267.0,214.0 267.5,215.7 268.0,214.7 268.5,217.3 269.0,217.2 269.5,220.8 270.1,221.3 270.6,224.8 271.1,227.7 271.6,231.5 272.1,233.8 272.6,232.0 273.1,229.9 273.6,229.3 274.1,224.3 274.6,221.3 275.1,217.2 275.7,213.5 276.2,213.9 276.8,211.4 277.3,208.2 277.8,209.8 278.4,211.3 278.9,211.2 279.4,209.1 279.9,205.9 280.4,203.7 280.9,201.7 281.5,199.2 282.1,198.3 282.6,194.6 283.1,197.5 283.6,197.9 284.1,200.7 284.7,204.2 285.3,205.2 285.6,296.6" fill="#FFFDB0" stroke="none"/>
<polygon points="408.3,296.6 408.6,215.7 409.2,211.9 409.9,207.5 410.5,202.2 411.0,199.9 411.5,195.5 412.0,193.7 412.5,189.3 413.1,194.7 413.7,198.5 414.3,202.2 414.9,207.5 415.5,212.0 416.0,215.5 416.6,220.3 417.2,223.2 417.7,223.5 418.2,226.6 418.8,229.3 419.4,231.7 420.0,232.9 420.6,236.9 421.1,233.9 421.6,232.2 422.1,229.3 422.6,224.8 423.1,218.7 423.6,215.9 424.1,209.7 424.7,207.9 425.2,204.7 425.8,203.4 426.4,200.7 426.9,197.3 427.5,193.6 428.1,189.6 428.6,186.3 429.2,191.4 429.8,193.9 430.3,197.7 430.9,200.7 431.5,205.2 432.0,209.6 432.6,210.5 433.2,215.7 433.8,220.9 434.3,226.2 434.8,229.7 435.4,235.3 436.0,240.3 436.5,244.6 437.1,250.3 437.7,256.5 438.2,259.1 438.8,261.3 439.3,264.8 439.9,268.5 440.5,272.0 441.0,273.2 441.6,275.3 442.2,277.6 442.7,279.8 443.2,279.3 443.7,281.3 444.2,280.6 444.8,284.5 445.4,288.6 446.0,291.2 446.6,290.7 447.1,293.0 447.6,294.2 448.2,294.2 450.5,296.4 453.0,296.6" fill="#FFFDB0" stroke="none"/>
<polygon points="561.3,296.6 561.3,293.6 561.9,292.5 562.4,295.5 563.0,294.5 566.0,296.0 570.0,295.5 575.0,295.0 578.0,295.5 582.0,296.0 590.0,296.5 592.0,296.6" fill="#FFFDB0" stroke="none"/>
<polyline points="95.1,162.0 102.0,160.8 106.0,159.8 106.5,159.4 107.0,159.5 107.6,160.4 108.1,158.7 108.6,158.6 109.2,158.6 109.7,157.2 110.2,157.9 110.7,154.9 111.2,152.3 111.7,148.9 112.2,149.2 112.7,146.5 113.2,146.5 113.7,145.3 114.2,146.9 114.7,145.9 115.2,143.4 115.7,145.6 116.2,143.6 116.8,138.6 117.3,131.3 117.9,124.7 118.5,118.0 119.0,114.1 119.6,110.8 120.2,109.5 120.7,106.6 121.3,104.7 121.8,104.6 122.4,104.2 123.0,104.4 123.5,103.8 124.0,106.0 124.5,155.6 125.0,156.0 125.5,156.4 126.0,158.1 126.5,157.6 127.0,158.0 127.6,158.6 128.1,158.3 128.7,158.9 129.2,158.4 129.8,158.7 130.4,156.7 131.0,156.0 131.3,102.9 132.0,93.8 132.6,92.6 133.2,90.0 133.7,86.9 134.3,83.2 134.9,80.1 135.5,75.2 136.1,72.0 136.6,73.8 137.0,77.2 137.0,162.0" fill="none" stroke="#ADADAD" stroke-width="1.4" stroke-linejoin="round"/>
<polyline points="145.6,162.0 145.6,81.7 146.2,77.7 146.8,73.7 147.3,72.4 147.9,68.2 148.4,63.4 149.0,60.1 149.6,54.2 150.1,50.0 150.6,49.4 151.1,47.0 151.6,44.0 152.1,45.5 152.5,50.0 153.2,60.6 153.9,70.0 153.9,162.0" fill="none" stroke="#ADADAD" stroke-width="1.4" stroke-linejoin="round"/>
<polyline points="162.2,162.0 162.2,63.6 162.7,62.5 163.2,64.4 163.7,62.9 164.3,65.6 164.8,70.0 165.4,71.1 166.0,74.2 166.6,75.2 167.1,79.1 167.6,81.8 168.2,83.2 168.7,86.0 169.2,89.0 169.7,93.8 170.2,90.8 170.8,90.2 171.3,86.3 171.8,88.6 172.3,89.3 172.3,162.0" fill="none" stroke="#ADADAD" stroke-width="1.4" stroke-linejoin="round"/>
<polyline points="181.3,162.0 181.3,83.2 181.8,80.6 182.3,79.4 182.8,78.7 183.3,76.5 183.8,75.4 184.3,75.7 184.8,75.9 185.3,73.4 185.8,73.9 186.3,73.0 186.8,75.2 187.3,76.9 187.8,80.2 188.3,82.9 188.8,83.2 189.3,86.3 189.9,87.5 190.4,87.8 190.9,84.6 191.4,83.5 191.9,81.7 192.6,77.2 193.4,66.7 193.9,69.6 194.4,74.2 195.0,70.9 195.6,68.9 196.1,70.8 196.6,70.8 197.1,70.4 197.6,69.6 198.2,71.1 198.7,69.7 199.3,73.3 199.9,78.7 200.4,82.9 200.9,87.8 201.4,94.1 202.0,98.3 202.4,107.4 202.4,162.0" fill="none" stroke="#ADADAD" stroke-width="1.4" stroke-linejoin="round"/>
<polyline points="210.7,162.0 210.7,105.9 211.2,107.3 211.7,106.7 212.2,108.9 212.7,112.4 213.2,112.0 213.7,114.9 214.3,112.7 215.0,111.9 215.7,116.4 216.0,162.0 220.0,162.0" fill="none" stroke="#ADADAD" stroke-width="1.4" stroke-linejoin="round"/>
<polyline points="229.3,162.0 229.3,122.5 229.8,121.0 230.3,117.9 230.8,115.4 231.3,113.3 231.8,111.9 232.3,112.6 232.8,114.7 233.3,117.9 233.8,116.6 234.4,114.1 234.9,113.4 235.4,115.7 235.9,117.0 236.4,119.4 236.9,118.3 237.4,118.8 237.9,116.4 238.4,114.1 238.9,112.1 239.4,109.6 239.9,112.0 240.4,111.2 240.9,113.4 241.4,112.9 241.9,115.6 242.4,114.9 242.9,114.9 243.4,112.1 243.9,111.9 244.4,111.0 244.9,112.6 245.4,111.9 245.9,114.2 246.4,113.0 246.9,114.9 247.4,117.3 247.9,118.0 248.4,117.9 248.9,118.2 249.4,117.7 249.9,117.9 250.4,118.5 250.9,120.0 251.4,123.2 251.9,124.4 252.4,121.9 252.9,122.5 253.4,120.1 254.0,115.7 254.5,113.4 255.0,111.4 255.5,107.7 256.0,104.4 256.5,100.7 257.0,97.4 257.5,95.3 258.0,91.9 258.5,85.9 259.0,83.2 259.5,80.4 260.0,79.4 260.5,77.2 261.0,77.5 261.5,76.1 262.0,75.0 262.5,73.8 263.0,75.2 263.5,73.4 264.0,73.8 264.5,74.5 265.0,77.2 265.5,80.5 266.0,85.1 266.5,89.3 267.0,90.5 267.5,93.3 268.0,96.8 268.5,97.9 269.0,100.0 269.5,101.3 270.0,102.7 270.5,106.0 271.0,108.9 271.5,111.3 272.0,112.9 272.5,112.7 273.0,112.4 273.5,111.7 274.0,110.4 274.5,106.6 275.1,101.3 275.6,98.3 276.1,96.9 276.6,96.9 277.1,98.3 277.6,100.5 278.1,100.9 278.6,101.3 279.1,101.7 279.6,97.9 280.1,98.3 280.6,97.7 281.1,96.2 281.6,95.3 282.2,95.2 282.8,93.8 283.4,94.8 283.9,96.8 284.4,100.3 284.9,99.6 285.4,102.9 285.7,162.0" fill="none" stroke="#ADADAD" stroke-width="1.4" stroke-linejoin="round"/>
<polyline points="310.0,162.0 313.0,160.6 316.0,160.1 319.0,160.6 322.0,162.0" fill="none" stroke="#ADADAD" stroke-width="1.4" stroke-linejoin="round"/>
<polyline points="408.4,162.0 408.7,146.6 409.2,143.2 409.7,140.2 410.2,136.0 410.9,136.0 411.5,133.5 412.0,134.0 412.5,133.8 413.0,133.0 413.5,134.5 414.0,135.4 414.5,134.4 415.0,136.0 415.5,136.0 416.1,138.2 416.6,139.0 417.2,138.6 417.8,139.8 418.3,141.2 418.8,141.9 419.3,141.5 419.8,142.2 420.3,141.9 420.8,142.8 421.4,141.3 421.9,139.7 422.4,136.4 423.0,136.0 423.6,134.5 424.1,133.7 424.7,131.5 425.3,128.5 425.9,128.2 426.5,126.3 427.0,126.4 427.6,124.7 428.2,125.9 428.8,126.4 429.3,128.6 429.9,128.5 430.4,129.0 431.0,132.7 431.6,132.2 432.1,135.3 432.7,137.3 433.2,138.6 433.8,139.5 434.4,142.0 434.9,143.2 435.5,143.1 436.1,144.1 436.6,144.3 437.2,145.9 437.8,144.3 438.3,144.0 438.9,145.8 439.4,145.7 439.9,147.4 440.4,146.5 440.9,146.9 441.4,149.6 441.9,148.9 442.5,150.3 443.0,150.6 443.6,152.9 444.2,152.6 444.7,154.1 445.2,157.2 445.7,158.7 448.0,160.2 451.7,160.9 454.0,160.2 457.0,161.3 461.5,162.0" fill="none" stroke="#ADADAD" stroke-width="1.4" stroke-linejoin="round"/>
<polyline points="482.6,162.0 490.0,160.4 495.0,161.2 500.0,160.6 505.0,161.2 508.3,157.2 508.8,156.0 509.4,156.3 509.9,157.1 510.5,157.1 511.0,155.5 511.6,156.5 512.1,155.0 512.6,155.4 513.2,154.5 513.8,153.9 514.3,154.9 514.8,155.1 515.4,156.4 515.9,156.6 516.5,156.4 517.0,156.0 517.5,157.7 518.1,156.0 518.6,156.0 519.2,157.1 519.8,156.9 520.3,157.9 523.3,160.2 529.4,161.6 533.9,159.6 534.4,158.7 534.9,159.3 535.4,160.0 535.9,159.6 536.4,159.0 537.0,160.6 537.5,161.0 538.0,159.5 538.5,158.3 539.0,158.2 539.5,160.7 540.0,159.6 540.5,157.9 541.0,159.5 541.5,158.8 542.0,157.6 542.5,158.7 543.0,157.5 543.5,155.8 544.1,155.9 544.6,156.6 545.1,155.0 545.6,157.1 546.2,155.1 546.7,155.6 547.2,154.8 547.8,154.7 548.3,156.7 548.9,156.4 549.4,157.1 550.0,157.4 550.5,157.2 551.0,158.4 551.5,159.2 552.0,158.7 552.5,157.5 553.0,158.6 553.5,158.0 554.0,157.8 554.5,159.5 555.0,159.9 555.5,160.2 556.0,158.3 556.5,158.3 557.0,158.2 557.5,159.0 558.0,158.2 558.5,158.1 559.0,158.3 559.5,157.2 560.1,156.3 560.8,156.0 561.6,116.4 562.2,114.3 562.8,111.6 563.3,106.2 563.9,104.4 564.5,104.5 565.0,102.8 565.5,99.8 566.1,99.8 566.6,102.2 567.1,105.2 567.6,107.4 568.1,107.1 568.6,104.0 569.1,102.9 569.7,104.2 570.2,106.3 570.8,107.2 571.4,107.4 571.9,111.7 572.4,113.3 572.9,116.4 573.4,118.9 573.9,119.6 574.4,122.5 574.9,124.7 575.4,126.5 575.9,127.4 576.4,128.5 576.9,126.2 577.4,122.5 578.0,117.1 578.5,114.6 579.1,110.4 579.7,104.4 580.3,103.9 580.9,100.7 581.4,99.6 582.0,96.8 582.5,93.8 583.0,93.0 583.5,89.3 584.0,87.3 584.5,83.2 585.4,77.5 586.0,82.9 586.5,89.3 587.0,92.0 587.5,97.1 588.0,101.3 588.5,105.5 589.0,110.2 589.5,113.4 590.0,116.4 590.5,118.1 591.0,122.5 591.5,126.4 592.0,127.2 592.5,131.5 593.0,136.4 593.5,138.6 594.0,143.6 594.5,145.1 595.0,148.5 595.5,149.6 596.0,149.0 596.5,149.5 597.0,151.1 597.6,152.3 598.1,154.0 598.7,155.5 599.3,155.6 599.9,156.9 600.5,158.5 601.0,157.9 601.6,158.7 603.8,160.9 606.0,162.0" fill="none" stroke="#ADADAD" stroke-width="1.4" stroke-linejoin="round"/>
<polyline points="96.6,296.6 107.0,296.9 110.9,292.7 111.4,291.3 111.9,285.9 112.4,284.4 112.9,283.4 113.4,284.2 113.9,283.4 114.4,284.6 114.9,284.1 115.4,283.6 115.9,279.1 116.5,275.6 117.0,270.0 117.5,264.5 118.1,258.1 118.7,252.7 119.2,247.4 119.8,243.9 120.3,239.6 120.9,232.9 121.5,229.3 122.0,226.8 122.6,223.6 123.2,218.6 123.7,215.0 124.5,279.1 125.0,279.8 125.5,279.2 126.0,280.6 126.5,278.4 127.1,276.0 127.7,277.9 128.3,279.8 128.9,280.7 129.4,279.5 129.9,282.9 130.5,282.1 131.3,215.7 132.0,202.2 132.5,202.2 133.0,201.9 133.5,202.2 134.1,200.1 134.6,196.1 135.1,196.6 135.6,196.6 136.1,196.9 136.7,202.2 136.7,296.6" fill="none" stroke="#ADADAD" stroke-width="1.4" stroke-linejoin="round"/>
<polyline points="145.6,296.6 145.6,208.2 146.1,205.7 146.6,200.8 147.1,199.1 147.6,196.2 148.1,192.8 148.6,190.1 149.1,190.2 149.6,188.8 150.1,186.3 150.6,183.9 151.1,182.8 151.6,180.1 152.1,179.5 152.6,186.1 153.2,193.1 153.9,194.6 153.9,296.6" fill="none" stroke="#ADADAD" stroke-width="1.4" stroke-linejoin="round"/>
<polyline points="162.2,296.6 162.2,197.6 162.7,198.3 163.2,198.3 163.7,196.9 164.2,198.6 164.7,199.9 165.2,202.2 165.7,202.8 166.2,205.6 166.7,206.7 167.2,211.5 167.7,212.6 168.2,217.2 168.7,222.6 169.2,224.8 169.7,230.8 170.5,217.2 171.1,215.2 171.6,215.0 172.3,217.2 172.3,296.6" fill="none" stroke="#ADADAD" stroke-width="1.4" stroke-linejoin="round"/>
<polyline points="181.3,296.6 181.3,215.7 182.1,211.2 182.6,209.4 183.1,209.8 183.6,208.2 184.1,205.2 184.6,202.8 185.1,200.7 185.7,200.3 186.3,199.1 186.8,200.4 187.3,204.9 187.8,206.7 188.3,206.6 188.8,208.7 189.3,209.7 189.8,210.0 190.3,210.8 190.8,212.7 191.4,210.5 191.9,208.2 192.4,205.0 192.9,201.8 193.4,199.1 193.9,201.4 194.4,204.3 194.9,206.7 195.4,205.2 195.9,204.8 196.4,205.2 196.9,206.6 197.4,207.6 197.9,208.2 198.4,203.4 199.0,198.4 199.6,205.1 200.2,209.7 200.9,215.7 201.4,220.6 202.0,224.8 202.4,296.6" fill="none" stroke="#ADADAD" stroke-width="1.4" stroke-linejoin="round"/>
<polyline points="210.4,296.6 210.4,230.8 210.9,231.6 211.4,229.5 211.9,230.1 212.5,233.6 213.1,236.6 213.7,238.4 214.2,241.6 214.7,241.8 215.2,244.4 216.0,247.4 216.0,296.6 221.0,296.6" fill="none" stroke="#ADADAD" stroke-width="1.4" stroke-linejoin="round"/>
<polyline points="229.3,296.6 229.3,255.0 229.8,251.4 230.3,248.9 230.8,247.7 231.3,243.1 231.8,241.4 232.3,245.9 232.8,248.6 233.3,250.4 233.8,248.8 234.4,248.6 234.9,248.9 235.4,250.1 235.9,249.2 236.4,250.4 236.9,248.7 237.4,250.4 237.9,248.9 238.4,250.2 238.9,252.8 239.4,253.4 239.9,254.3 240.4,257.2 240.9,259.5 241.4,259.1 241.9,256.1 242.4,256.5 242.9,255.1 243.4,256.0 243.9,255.0 244.4,257.0 244.9,257.9 245.4,257.2 245.9,256.3 246.4,257.8 246.9,258.0 247.4,259.3 247.9,259.0 248.4,259.5 248.9,260.6 249.4,259.6 249.9,261.0 250.4,260.7 250.9,261.8 251.4,264.0 252.1,264.9 252.7,268.5 253.2,267.2 253.7,265.5 254.2,262.0 254.7,258.7 255.2,255.0 255.7,250.4 256.2,247.0 256.7,244.4 257.2,240.5 257.7,239.4 258.2,235.3 258.7,233.8 259.2,230.6 259.7,226.3 260.3,220.1 260.9,214.9 261.5,211.2 262.0,211.1 262.5,208.1 263.0,206.7 263.5,207.0 264.0,205.2 264.5,205.2 265.0,206.6 265.5,208.2 266.0,209.7 266.5,211.5 267.0,214.0 267.5,215.7 268.0,214.7 268.5,217.3 269.0,217.2 269.5,220.8 270.1,221.3 270.6,224.8 271.1,227.7 271.6,231.5 272.1,233.8 272.6,232.0 273.1,229.9 273.6,229.3 274.1,224.3 274.6,221.3 275.1,217.2 275.7,213.5 276.2,213.9 276.8,211.4 277.3,208.2 277.8,209.8 278.4,211.3 278.9,211.2 279.4,209.1 279.9,205.9 280.4,203.7 280.9,201.7 281.5,199.2 282.1,198.3 282.6,194.6 283.1,197.5 283.6,197.9 284.1,200.7 284.7,204.2 285.3,205.2 285.6,296.6" fill="none" stroke="#ADADAD" stroke-width="1.4" stroke-linejoin="round"/>
<polyline points="408.3,296.6 408.6,215.7 409.2,211.9 409.9,207.5 410.5,202.2 411.0,199.9 411.5,195.5 412.0,193.7 412.5,189.3 413.1,194.7 413.7,198.5 414.3,202.2 414.9,207.5 415.5,212.0 416.0,215.5 416.6,220.3 417.2,223.2 417.7,223.5 418.2,226.6 418.8,229.3 419.4,231.7 420.0,232.9 420.6,236.9 421.1,233.9 421.6,232.2 422.1,229.3 422.6,224.8 423.1,218.7 423.6,215.9 424.1,209.7 424.7,207.9 425.2,204.7 425.8,203.4 426.4,200.7 426.9,197.3 427.5,193.6 428.1,189.6 428.6,186.3 429.2,191.4 429.8,193.9 430.3,197.7 430.9,200.7 431.5,205.2 432.0,209.6 432.6,210.5 433.2,215.7 433.8,220.9 434.3,226.2 434.8,229.7 435.4,235.3 436.0,240.3 436.5,244.6 437.1,250.3 437.7,256.5 438.2,259.1 438.8,261.3 439.3,264.8 439.9,268.5 440.5,272.0 441.0,273.2 441.6,275.3 442.2,277.6 442.7,279.8 443.2,279.3 443.7,281.3 444.2,280.6 444.8,284.5 445.4,288.6 446.0,291.2 446.6,290.7 447.1,293.0 447.6,294.2 448.2,294.2 450.5,296.4 453.0,296.6" fill="none" stroke="#ADADAD" stroke-width="1.4" stroke-linejoin="round"/>
<polyline points="561.3,296.6 561.3,293.6 561.9,292.5 562.4,295.5 563.0,294.5 566.0,296.0 570.0,295.5 575.0,295.0 578.0,295.5 582.0,296.0 590.0,296.5 592.0,296.6" fill="none" stroke="#ADADAD" stroke-width="1.4" stroke-linejoin="round"/>
<rect x="580.80" y="162.6" width="1.6" height="1.1" fill="#ABABAB"/>
<rect x="578.80" y="162.4" width="1.6" height="1.3" fill="#ABABAB"/>
<rect x="284.80" y="162.4" width="1.6" height="1.3" fill="#FF0000"/>
<rect x="282.80" y="161.5" width="1.6" height="2.2" fill="#FF0000"/>
<rect x="281.80" y="160.1" width="1.6" height="3.6" fill="#FF0000"/>
<rect x="279.80" y="160.0" width="1.6" height="3.7" fill="#FF0000"/>
<rect x="277.80" y="161.2" width="1.6" height="2.5" fill="#FF0000"/>
<rect x="275.80" y="159.8" width="1.6" height="3.9" fill="#FF0000"/>
<rect x="274.80" y="161.6" width="1.6" height="2.1" fill="#FF0000"/>
<rect x="272.80" y="162.7" width="1.6" height="1.0" fill="#FF0000"/>
<rect x="270.80" y="162.0" width="1.6" height="1.7" fill="#FF0000"/>
<rect x="255.80" y="160.9" width="1.6" height="2.8" fill="#FF0000"/>
<rect x="253.80" y="161.2" width="1.6" height="2.5" fill="#FF0000"/>
<rect x="252.80" y="159.3" width="1.6" height="4.4" fill="#FF0000"/>
<rect x="250.80" y="160.3" width="1.6" height="3.4" fill="#FF0000"/>
<rect x="249.80" y="161.9" width="1.6" height="1.8" fill="#FF0000"/>
<rect x="248.80" y="160.8" width="1.6" height="2.9" fill="#FF0000"/>
<rect x="245.80" y="162.0" width="1.6" height="1.7" fill="#FF0000"/>
<rect x="242.80" y="162.1" width="1.6" height="1.6" fill="#FF0000"/>
<rect x="241.80" y="160.8" width="1.6" height="2.9" fill="#FF0000"/>
<rect x="238.80" y="159.9" width="1.6" height="3.8" fill="#FF0000"/>
<rect x="236.80" y="162.0" width="1.6" height="1.7" fill="#FF0000"/>
<rect x="235.80" y="160.5" width="1.6" height="3.2" fill="#FF0000"/>
<rect x="234.80" y="159.3" width="1.6" height="4.4" fill="#FF0000"/>
<rect x="232.80" y="160.2" width="1.6" height="3.5" fill="#FF0000"/>
<rect x="231.80" y="159.8" width="1.6" height="3.9" fill="#FF0000"/>
<rect x="229.80" y="159.1" width="1.6" height="4.6" fill="#FF0000"/>
<rect x="228.80" y="159.5" width="1.6" height="4.2" fill="#FF0000"/>
<rect x="213.80" y="161.5" width="1.6" height="2.2" fill="#FF0000"/>
<rect x="212.80" y="161.1" width="1.6" height="2.6" fill="#FF0000"/>
<rect x="210.80" y="160.0" width="1.6" height="3.7" fill="#FF0000"/>
<rect x="198.80" y="159.1" width="1.6" height="4.6" fill="#FF0000"/>
<rect x="197.80" y="160.5" width="1.6" height="3.2" fill="#FF0000"/>
<rect x="195.80" y="157.7" width="1.6" height="6.0" fill="#FF0000"/>
<rect x="193.80" y="160.1" width="1.6" height="3.6" fill="#FF0000"/>
<rect x="191.80" y="158.3" width="1.6" height="5.4" fill="#FF0000"/>
<rect x="187.80" y="158.5" width="1.6" height="5.2" fill="#FF0000"/>
<rect x="186.80" y="160.8" width="1.6" height="2.9" fill="#FF0000"/>
<rect x="184.80" y="160.2" width="1.6" height="3.5" fill="#FF0000"/>
<rect x="169.80" y="160.2" width="1.6" height="3.5" fill="#FF0000"/>
<rect x="168.80" y="160.0" width="1.6" height="3.7" fill="#FF0000"/>
<rect x="165.80" y="160.7" width="1.6" height="3.0" fill="#FF0000"/>
<rect x="162.80" y="162.1" width="1.6" height="1.6" fill="#FF0000"/>
<rect x="161.80" y="162.0" width="1.6" height="1.7" fill="#FF0000"/>
<rect x="148.80" y="160.3" width="1.6" height="3.4" fill="#FF0000"/>
<rect x="130.80" y="159.3" width="1.6" height="4.4" fill="#119911"/>
<rect x="131.80" y="158.0" width="1.6" height="5.7" fill="#119911"/>
<rect x="131.80" y="157.5" width="1.6" height="6.2" fill="#119911"/>
<rect x="132.80" y="156.8" width="1.6" height="6.9" fill="#119911"/>
<rect x="133.80" y="158.0" width="1.6" height="5.7" fill="#119911"/>
<rect x="134.80" y="151.6" width="1.6" height="12.1" fill="#119911"/>
<rect x="135.80" y="155.0" width="1.6" height="8.7" fill="#119911"/>
<rect x="145.80" y="155.0" width="1.6" height="8.7" fill="#FF0000"/>
<rect x="146.80" y="140.3" width="1.6" height="23.4" fill="#FF0000"/>
<rect x="147.80" y="139.2" width="1.6" height="24.5" fill="#4A78F0"/>
<rect x="148.80" y="152.0" width="1.6" height="11.7" fill="#FF0000"/>
<rect x="150.80" y="161.0" width="1.6" height="2.7" fill="#FF0000"/>
<rect x="152.80" y="151.3" width="1.6" height="12.4" fill="#FF0000"/>
<rect x="161.80" y="148.0" width="1.6" height="15.7" fill="#FF0000"/>
<rect x="162.80" y="158.0" width="1.6" height="5.7" fill="#FF0000"/>
<rect x="163.80" y="160.0" width="1.6" height="3.7" fill="#FF0000"/>
<rect x="164.80" y="152.0" width="1.6" height="11.7" fill="#FF0000"/>
<rect x="165.80" y="143.2" width="1.6" height="20.5" fill="#FF0000"/>
<rect x="166.80" y="155.0" width="1.6" height="8.7" fill="#4A78F0"/>
<rect x="167.80" y="160.0" width="1.6" height="3.7" fill="#FF0000"/>
<rect x="168.80" y="152.0" width="1.6" height="11.7" fill="#FF0000"/>
<rect x="169.80" y="160.0" width="1.6" height="3.7" fill="#FF0000"/>
<rect x="180.80" y="158.7" width="1.6" height="5.0" fill="#FF0000"/>
<rect x="181.80" y="159.0" width="1.6" height="4.7" fill="#FF0000"/>
<rect x="182.80" y="152.5" width="1.6" height="11.2" fill="#FF0000"/>
<rect x="184.80" y="160.0" width="1.6" height="3.7" fill="#FF0000"/>
<rect x="186.80" y="157.0" width="1.6" height="6.7" fill="#FF0000"/>
<rect x="187.80" y="149.0" width="1.6" height="14.7" fill="#FF0000"/>
<rect x="188.80" y="111.6" width="1.6" height="52.1" fill="#FF0000"/>
<rect x="189.80" y="145.5" width="1.6" height="18.2" fill="#FF0000"/>
<rect x="190.80" y="150.0" width="1.6" height="13.7" fill="#FF0000"/>
<rect x="191.80" y="150.5" width="1.6" height="13.2" fill="#FF0000"/>
<rect x="193.80" y="135.0" width="1.6" height="28.7" fill="#FF0000"/>
<rect x="194.80" y="143.0" width="1.6" height="20.7" fill="#FF0000"/>
<rect x="195.80" y="143.8" width="1.6" height="19.9" fill="#FF0000"/>
<rect x="196.80" y="150.0" width="1.6" height="13.7" fill="#FF0000"/>
<rect x="197.80" y="145.8" width="1.6" height="17.9" fill="#FF0000"/>
<rect x="198.80" y="156.0" width="1.6" height="7.7" fill="#FF0000"/>
<rect x="199.80" y="149.0" width="1.6" height="14.7" fill="#FF0000"/>
<rect x="200.80" y="125.2" width="1.6" height="38.5" fill="#FF0000"/>
<rect x="201.80" y="146.9" width="1.6" height="16.8" fill="#FF0000"/>
<rect x="209.80" y="149.0" width="1.6" height="14.7" fill="#FF0000"/>
<rect x="210.80" y="155.0" width="1.6" height="8.7" fill="#FF0000"/>
<rect x="211.80" y="158.0" width="1.6" height="5.7" fill="#FF0000"/>
<rect x="212.80" y="156.0" width="1.6" height="7.7" fill="#FF0000"/>
<rect x="213.80" y="161.0" width="1.6" height="2.7" fill="#FF0000"/>
<rect x="230.80" y="157.4" width="1.6" height="6.3" fill="#FF0000"/>
<rect x="232.80" y="158.5" width="1.6" height="5.2" fill="#FF0000"/>
<rect x="234.80" y="154.7" width="1.6" height="9.0" fill="#FF0000"/>
<rect x="236.80" y="159.0" width="1.6" height="4.7" fill="#FF0000"/>
<rect x="237.80" y="158.0" width="1.6" height="5.7" fill="#FF0000"/>
<rect x="239.80" y="158.5" width="1.6" height="5.2" fill="#FF0000"/>
<rect x="241.80" y="154.3" width="1.6" height="9.4" fill="#FF0000"/>
<rect x="243.80" y="152.0" width="1.6" height="11.7" fill="#FF0000"/>
<rect x="243.80" y="99.1" width="1.6" height="64.6" fill="#FF0000"/>
<rect x="244.80" y="127.1" width="1.6" height="36.6" fill="#FF0000"/>
<rect x="246.80" y="162.0" width="1.6" height="1.7" fill="#FF0000"/>
<rect x="248.80" y="160.0" width="1.6" height="3.7" fill="#FF0000"/>
<rect x="250.80" y="138.4" width="1.6" height="25.3" fill="#FF0000"/>
<rect x="251.80" y="146.5" width="1.6" height="17.2" fill="#FF0000"/>
<rect x="252.80" y="148.7" width="1.6" height="15.0" fill="#4A78F0"/>
<rect x="253.80" y="146.0" width="1.6" height="17.7" fill="#FF0000"/>
<rect x="254.80" y="128.5" width="1.6" height="35.2" fill="#FF0000"/>
<rect x="255.80" y="160.0" width="1.6" height="3.7" fill="#FF0000"/>
<rect x="260.80" y="161.5" width="1.6" height="2.2" fill="#FF0000"/>
<rect x="267.80" y="154.3" width="1.6" height="9.4" fill="#FF0000"/>
<rect x="268.80" y="160.0" width="1.6" height="3.7" fill="#FF0000"/>
<rect x="272.80" y="151.1" width="1.6" height="12.6" fill="#FF0000"/>
<rect x="274.80" y="159.0" width="1.6" height="4.7" fill="#FF0000"/>
<rect x="275.80" y="160.0" width="1.6" height="3.7" fill="#FF0000"/>
<rect x="277.80" y="156.5" width="1.6" height="7.2" fill="#FF0000"/>
<rect x="279.80" y="145.2" width="1.6" height="18.5" fill="#4A78F0"/>
<rect x="280.80" y="157.0" width="1.6" height="6.7" fill="#FF0000"/>
<rect x="282.80" y="147.0" width="1.6" height="16.7" fill="#FF0000"/>
<rect x="283.80" y="162.0" width="1.6" height="1.7" fill="#FF0000"/>
<rect x="561.80" y="160.7" width="1.6" height="3.0" fill="#ABABAB"/>
<rect x="564.80" y="159.3" width="1.6" height="4.4" fill="#ABABAB"/>
<rect x="565.80" y="159.3" width="1.6" height="4.4" fill="#ABABAB"/>
<rect x="567.80" y="160.0" width="1.6" height="3.7" fill="#ABABAB"/>
<rect x="570.80" y="159.1" width="1.6" height="4.6" fill="#ABABAB"/>
<rect x="571.80" y="161.0" width="1.6" height="2.7" fill="#ABABAB"/>
<rect x="574.80" y="149.9" width="1.6" height="13.8" fill="#ABABAB"/>
<rect x="574.80" y="138.4" width="1.6" height="25.3" fill="#ABABAB"/>
<rect x="575.80" y="150.0" width="1.6" height="13.7" fill="#ABABAB"/>
<rect x="577.80" y="139.7" width="1.6" height="24.0" fill="#ABABAB"/>
<rect x="578.80" y="154.0" width="1.6" height="9.7" fill="#ABABAB"/>
<rect x="578.80" y="148.3" width="1.6" height="15.4" fill="#ABABAB"/>
<rect x="579.80" y="154.0" width="1.6" height="9.7" fill="#ABABAB"/>
<rect x="581.80" y="161.0" width="1.6" height="2.7" fill="#ABABAB"/>
<rect x="582.80" y="162.0" width="1.6" height="1.7" fill="#ABABAB"/>
<rect x="587.80" y="147.9" width="1.6" height="15.8" fill="#ABABAB"/>
<rect x="588.80" y="143.0" width="1.6" height="20.7" fill="#ABABAB"/>
<rect x="588.80" y="143.0" width="1.6" height="20.7" fill="#ABABAB"/>
<rect x="408.80" y="162.0" width="1.6" height="1.7" fill="#FF0000"/>
<rect x="420.80" y="154.1" width="1.6" height="9.6" fill="#FF0000"/>
<rect x="426.80" y="157.2" width="1.6" height="6.5" fill="#FF0000"/>
<rect x="436.80" y="156.4" width="1.6" height="7.3" fill="#FF0000"/>
<rect x="612.80" y="146.6" width="1.6" height="17.1" fill="#ABABAB"/>
<rect x="587.80" y="160.5" width="1.6" height="3.2" fill="#ABABAB"/>
<rect x="588.80" y="143.5" width="1.6" height="20.2" fill="#ABABAB"/>
<rect x="424.80" y="295.1" width="1.6" height="3.1" fill="#FF0000"/>
<rect x="422.80" y="294.9" width="1.6" height="3.3" fill="#FF0000"/>
<rect x="421.80" y="294.6" width="1.6" height="3.6" fill="#FF0000"/>
<rect x="420.80" y="293.5" width="1.6" height="4.7" fill="#FF0000"/>
<rect x="418.80" y="294.7" width="1.6" height="3.5" fill="#FF0000"/>
<rect x="417.80" y="294.0" width="1.6" height="4.2" fill="#FF0000"/>
<rect x="282.80" y="296.9" width="1.6" height="1.3" fill="#FF0000"/>
<rect x="280.80" y="295.5" width="1.6" height="2.7" fill="#FF0000"/>
<rect x="279.80" y="296.2" width="1.6" height="2.0" fill="#FF0000"/>
<rect x="277.80" y="295.0" width="1.6" height="3.2" fill="#FF0000"/>
<rect x="276.80" y="296.7" width="1.6" height="1.5" fill="#FF0000"/>
<rect x="275.80" y="297.2" width="1.6" height="1.0" fill="#FF0000"/>
<rect x="270.80" y="295.7" width="1.6" height="2.5" fill="#FF0000"/>
<rect x="269.80" y="295.9" width="1.6" height="2.3" fill="#FF0000"/>
<rect x="268.80" y="295.4" width="1.6" height="2.8" fill="#FF0000"/>
<rect x="266.80" y="296.1" width="1.6" height="2.1" fill="#FF0000"/>
<rect x="265.80" y="296.8" width="1.6" height="1.4" fill="#FF0000"/>
<rect x="255.80" y="296.2" width="1.6" height="2.0" fill="#FF0000"/>
<rect x="253.80" y="296.2" width="1.6" height="2.0" fill="#FF0000"/>
<rect x="249.80" y="295.5" width="1.6" height="2.7" fill="#FF0000"/>
<rect x="248.80" y="295.1" width="1.6" height="3.1" fill="#FF0000"/>
<rect x="246.80" y="293.3" width="1.6" height="4.9" fill="#FF0000"/>
<rect x="243.80" y="295.8" width="1.6" height="2.4" fill="#FF0000"/>
<rect x="242.80" y="293.3" width="1.6" height="4.9" fill="#FF0000"/>
<rect x="241.80" y="296.6" width="1.6" height="1.6" fill="#FF0000"/>
<rect x="239.80" y="293.6" width="1.6" height="4.6" fill="#FF0000"/>
<rect x="235.80" y="295.6" width="1.6" height="2.6" fill="#FF0000"/>
<rect x="234.80" y="293.3" width="1.6" height="4.9" fill="#FF0000"/>
<rect x="232.80" y="295.9" width="1.6" height="2.3" fill="#FF0000"/>
<rect x="231.80" y="296.5" width="1.6" height="1.7" fill="#FF0000"/>
<rect x="229.80" y="294.2" width="1.6" height="4.0" fill="#FF0000"/>
<rect x="228.80" y="293.6" width="1.6" height="4.6" fill="#FF0000"/>
<rect x="213.80" y="295.9" width="1.6" height="2.3" fill="#FF0000"/>
<rect x="212.80" y="294.2" width="1.6" height="4.0" fill="#FF0000"/>
<rect x="210.80" y="293.7" width="1.6" height="4.5" fill="#FF0000"/>
<rect x="209.80" y="294.3" width="1.6" height="3.9" fill="#FF0000"/>
<rect x="198.80" y="289.5" width="1.6" height="8.7" fill="#FF0000"/>
<rect x="196.80" y="289.6" width="1.6" height="8.6" fill="#FF0000"/>
<rect x="195.80" y="289.5" width="1.6" height="8.7" fill="#FF0000"/>
<rect x="193.80" y="294.4" width="1.6" height="3.8" fill="#FF0000"/>
<rect x="189.80" y="294.6" width="1.6" height="3.6" fill="#FF0000"/>
<rect x="188.80" y="290.5" width="1.6" height="7.7" fill="#FF0000"/>
<rect x="186.80" y="290.2" width="1.6" height="8.0" fill="#FF0000"/>
<rect x="185.80" y="290.5" width="1.6" height="7.7" fill="#FF0000"/>
<rect x="168.80" y="293.5" width="1.6" height="4.7" fill="#FF0000"/>
<rect x="167.80" y="295.4" width="1.6" height="2.8" fill="#FF0000"/>
<rect x="165.80" y="294.9" width="1.6" height="3.3" fill="#FF0000"/>
<rect x="164.80" y="291.9" width="1.6" height="6.3" fill="#FF0000"/>
<rect x="162.80" y="293.6" width="1.6" height="4.6" fill="#FF0000"/>
<rect x="149.80" y="296.6" width="1.6" height="1.6" fill="#FF0000"/>
<rect x="134.80" y="294.3" width="1.6" height="3.9" fill="#119911"/>
<rect x="133.80" y="292.8" width="1.6" height="5.4" fill="#119911"/>
<rect x="130.80" y="295.2" width="1.6" height="3.0" fill="#119911"/>
<rect x="130.80" y="296.5" width="1.6" height="1.7" fill="#4A78F0"/>
<rect x="131.80" y="275.8" width="1.6" height="22.4" fill="#119911"/>
<rect x="132.80" y="293.0" width="1.6" height="5.2" fill="#119911"/>
<rect x="133.80" y="284.9" width="1.6" height="13.3" fill="#119911"/>
<rect x="134.80" y="286.7" width="1.6" height="11.5" fill="#119911"/>
<rect x="146.80" y="275.8" width="1.6" height="22.4" fill="#FF0000"/>
<rect x="147.80" y="279.8" width="1.6" height="18.4" fill="#FF0000"/>
<rect x="148.80" y="294.0" width="1.6" height="4.2" fill="#FF0000"/>
<rect x="149.80" y="291.9" width="1.6" height="6.3" fill="#119911"/>
<rect x="150.80" y="287.1" width="1.6" height="11.1" fill="#FF0000"/>
<rect x="161.80" y="295.9" width="1.6" height="2.3" fill="#FF0000"/>
<rect x="162.80" y="280.0" width="1.6" height="18.2" fill="#FF0000"/>
<rect x="163.80" y="279.8" width="1.6" height="18.4" fill="#FF0000"/>
<rect x="164.80" y="287.0" width="1.6" height="11.2" fill="#119911"/>
<rect x="165.80" y="288.6" width="1.6" height="9.6" fill="#FF0000"/>
<rect x="166.80" y="288.6" width="1.6" height="9.6" fill="#FF0000"/>
<rect x="168.80" y="288.6" width="1.6" height="9.6" fill="#FF0000"/>
<rect x="169.80" y="288.6" width="1.6" height="9.6" fill="#FF0000"/>
<rect x="181.80" y="287.1" width="1.6" height="11.1" fill="#4A78F0"/>
<rect x="180.80" y="295.0" width="1.6" height="3.2" fill="#119911"/>
<rect x="186.80" y="290.7" width="1.6" height="7.5" fill="#FF0000"/>
<rect x="187.80" y="276.4" width="1.6" height="21.8" fill="#FF0000"/>
<rect x="188.80" y="177.9" width="1.6" height="120.3" fill="#FF0000"/>
<rect x="189.80" y="277.9" width="1.6" height="20.3" fill="#FF0000"/>
<rect x="190.80" y="288.0" width="1.6" height="10.2" fill="#FF0000"/>
<rect x="192.80" y="292.0" width="1.6" height="6.2" fill="#FF0000"/>
<rect x="193.80" y="262.1" width="1.6" height="36.1" fill="#FF0000"/>
<rect x="194.80" y="259.3" width="1.6" height="38.9" fill="#FF0000"/>
<rect x="196.80" y="262.9" width="1.6" height="35.3" fill="#FF0000"/>
<rect x="197.80" y="283.6" width="1.6" height="14.6" fill="#FF0000"/>
<rect x="198.80" y="285.0" width="1.6" height="13.2" fill="#FF0000"/>
<rect x="200.80" y="185.0" width="1.6" height="113.2" fill="#FF0000"/>
<rect x="201.80" y="290.7" width="1.6" height="7.5" fill="#FF0000"/>
<rect x="193.80" y="290.0" width="1.6" height="8.2" fill="#119911"/>
<rect x="209.80" y="262.9" width="1.6" height="35.3" fill="#FF0000"/>
<rect x="210.80" y="292.0" width="1.6" height="6.2" fill="#FF0000"/>
<rect x="211.80" y="293.0" width="1.6" height="5.2" fill="#FF0000"/>
<rect x="213.80" y="293.5" width="1.6" height="4.7" fill="#FF0000"/>
<rect x="214.80" y="272.9" width="1.6" height="25.3" fill="#FF0000"/>
<rect x="228.80" y="289.8" width="1.6" height="8.4" fill="#FF0000"/>
<rect x="229.80" y="293.0" width="1.6" height="5.2" fill="#FF0000"/>
<rect x="231.80" y="289.3" width="1.6" height="8.9" fill="#FF0000"/>
<rect x="233.80" y="292.0" width="1.6" height="6.2" fill="#FF0000"/>
<rect x="234.80" y="270.3" width="1.6" height="27.9" fill="#FF0000"/>
<rect x="235.80" y="289.3" width="1.6" height="8.9" fill="#FF0000"/>
<rect x="239.80" y="290.2" width="1.6" height="8.0" fill="#FF0000"/>
<rect x="242.80" y="287.5" width="1.6" height="10.7" fill="#FF0000"/>
<rect x="243.80" y="272.1" width="1.6" height="26.1" fill="#FF0000"/>
<rect x="244.80" y="277.1" width="1.6" height="21.1" fill="#FF0000"/>
<rect x="246.80" y="289.3" width="1.6" height="8.9" fill="#119911"/>
<rect x="247.80" y="294.7" width="1.6" height="3.5" fill="#FF0000"/>
<rect x="248.80" y="294.7" width="1.6" height="3.5" fill="#FF0000"/>
<rect x="251.80" y="291.1" width="1.6" height="7.1" fill="#FF0000"/>
<rect x="252.80" y="247.7" width="1.6" height="50.5" fill="#FF0000"/>
<rect x="253.80" y="246.5" width="1.6" height="51.7" fill="#FF0000"/>
<rect x="254.80" y="245.0" width="1.6" height="53.2" fill="#FF0000"/>
<rect x="255.80" y="291.1" width="1.6" height="7.1" fill="#FF0000"/>
<rect x="259.80" y="291.0" width="1.6" height="7.2" fill="#FF0000"/>
<rect x="260.80" y="287.5" width="1.6" height="10.7" fill="#FF0000"/>
<rect x="265.80" y="292.6" width="1.6" height="5.6" fill="#FF0000"/>
<rect x="267.80" y="284.3" width="1.6" height="13.9" fill="#FF0000"/>
<rect x="268.80" y="292.5" width="1.6" height="5.7" fill="#119911"/>
<rect x="269.80" y="295.6" width="1.6" height="2.6" fill="#FF0000"/>
<rect x="270.80" y="295.6" width="1.6" height="2.6" fill="#FF0000"/>
<rect x="272.80" y="295.6" width="1.6" height="2.6" fill="#FF0000"/>
<rect x="276.80" y="278.9" width="1.6" height="19.3" fill="#FF0000"/>
<rect x="277.80" y="284.8" width="1.6" height="13.4" fill="#FF0000"/>
<rect x="278.80" y="285.5" width="1.6" height="12.7" fill="#FF0000"/>
<rect x="279.80" y="291.0" width="1.6" height="7.2" fill="#FF0000"/>
<rect x="282.80" y="278.9" width="1.6" height="19.3" fill="#FF0000"/>
<rect x="283.80" y="287.0" width="1.6" height="11.2" fill="#FF0000"/>
<rect x="407.80" y="290.9" width="1.6" height="7.3" fill="#FF0000"/>
<rect x="412.80" y="288.0" width="1.6" height="10.2" fill="#FF0000"/>
<rect x="415.80" y="290.9" width="1.6" height="7.3" fill="#FF0000"/>
<rect x="417.80" y="292.8" width="1.6" height="5.4" fill="#FF0000"/>
<rect x="418.80" y="284.3" width="1.6" height="13.9" fill="#FF0000"/>
<rect x="419.80" y="289.4" width="1.6" height="8.8" fill="#FF0000"/>
<rect x="421.80" y="277.7" width="1.6" height="20.5" fill="#FF0000"/>
<rect x="422.80" y="289.4" width="1.6" height="8.8" fill="#FF0000"/>
<rect x="423.80" y="262.0" width="1.6" height="36.2" fill="#FF0000"/>
<rect x="423.80" y="275.9" width="1.6" height="22.3" fill="#FF0000"/>
<rect x="427.80" y="290.9" width="1.6" height="7.3" fill="#FF0000"/>
<rect x="434.80" y="291.2" width="1.6" height="7.0" fill="#FF0000"/>
<rect x="436.80" y="284.3" width="1.6" height="13.9" fill="#FF0000"/>
<rect x="437.80" y="284.3" width="1.6" height="13.9" fill="#FF0000"/>
<rect x="439.80" y="290.9" width="1.6" height="7.3" fill="#ABABAB"/>
<rect x="447.80" y="289.8" width="1.6" height="8.4" fill="#ABABAB"/>
<rect x="577.80" y="295.1" width="1.6" height="3.1" fill="#ABABAB"/>
<rect x="582.80" y="289.6" width="1.6" height="8.6" fill="#ABABAB"/>
<rect x="612.80" y="287.4" width="1.6" height="10.8" fill="#ABABAB"/>
<rect x="419.80" y="294.9" width="1.6" height="3.3" fill="#119911"/>
<rect x="424.80" y="289.3" width="1.6" height="8.9" fill="#119911"/>
<rect x="435.80" y="291.2" width="1.6" height="7.0" fill="#119911"/>
<rect x="436.80" y="286.2" width="1.6" height="12.0" fill="#FF0000"/>
<polyline points="463.0,162.0 474.0,162.0" fill="none" stroke="#D6D6D6" stroke-width="1.3"/>
<polyline points="287.0,162.0 300.0,162.0" fill="none" stroke="#EEEEEE" stroke-width="1.3"/>
<polyline points="292.0,296.6 301.5,296.6" fill="none" stroke="#BDBDBD" stroke-width="1.3"/>
<polyline points="349.0,296.6 360.0,296.2 366.0,296.0 374.0,296.6" fill="none" stroke="#BDBDBD" stroke-width="1.3"/>
<polyline points="455.0,296.6 470.0,296.6" fill="none" stroke="#BDBDBD" stroke-width="1.3"/>
<polyline points="308.0,296.6 324.0,296.6" fill="none" stroke="#E6E6E6" stroke-width="1.3"/>
<polyline points="377.0,296.6 403.0,296.6" fill="none" stroke="#E6E6E6" stroke-width="1.3"/>
<line x1="108.3" y1="40.9" x2="108.3" y2="167.8" stroke="#BDBDBD" stroke-width="1.6" stroke-dasharray="3.6,4.65"/>
<line x1="438.0" y1="40.9" x2="438.0" y2="167.8" stroke="#383838" stroke-width="1.8" stroke-dasharray="3.6,4.65"/>
<line x1="108.3" y1="175.7" x2="108.3" y2="302.2" stroke="#BDBDBD" stroke-width="1.6" stroke-dasharray="3.6,4.65"/>
<line x1="438.0" y1="175.7" x2="438.0" y2="302.2" stroke="#383838" stroke-width="1.8" stroke-dasharray="3.6,4.65"/>
<rect x="55.3" y="38.6" width="580.7" height="129.5" fill="none" stroke="#000" stroke-width="1.5"/>
<line x1="57.5" y1="168.1" x2="57.5" y2="169.7" stroke="#000" stroke-width="1"/>
<line x1="146.9" y1="168.1" x2="146.9" y2="169.7" stroke="#000" stroke-width="1"/>
<line x1="236.3" y1="168.1" x2="236.3" y2="169.7" stroke="#000" stroke-width="1"/>
<line x1="325.8" y1="168.1" x2="325.8" y2="169.7" stroke="#000" stroke-width="1"/>
<line x1="415.2" y1="168.1" x2="415.2" y2="169.7" stroke="#000" stroke-width="1"/>
<line x1="504.6" y1="168.1" x2="504.6" y2="169.7" stroke="#000" stroke-width="1"/>
<line x1="594.0" y1="168.1" x2="594.0" y2="169.7" stroke="#000" stroke-width="1"/>
<rect x="55.3" y="173.4" width="580.7" height="129.1" fill="none" stroke="#000" stroke-width="1.5"/>
<line x1="57.5" y1="302.5" x2="57.5" y2="304.1" stroke="#000" stroke-width="1"/>
<line x1="146.9" y1="302.5" x2="146.9" y2="304.1" stroke="#000" stroke-width="1"/>
<line x1="236.3" y1="302.5" x2="236.3" y2="304.1" stroke="#000" stroke-width="1"/>
<line x1="325.8" y1="302.5" x2="325.8" y2="304.1" stroke="#000" stroke-width="1"/>
<line x1="415.2" y1="302.5" x2="415.2" y2="304.1" stroke="#000" stroke-width="1"/>
<line x1="504.6" y1="302.5" x2="504.6" y2="304.1" stroke="#000" stroke-width="1"/>
<line x1="594.0" y1="302.5" x2="594.0" y2="304.1" stroke="#000" stroke-width="1"/>
<line x1="48.3" y1="163.4" x2="55.3" y2="163.4" stroke="#000" stroke-width="1"/>
<text x="39.8" y="163.4" font-size="11" text-anchor="middle" font-weight="normal" font-style="normal" fill="#000" transform="rotate(-90 39.8 163.4)">0</text>
<line x1="48.3" y1="134.2" x2="55.3" y2="134.2" stroke="#000" stroke-width="1"/>
<text x="39.8" y="134.2" font-size="11" text-anchor="middle" font-weight="normal" font-style="normal" fill="#000" transform="rotate(-90 39.8 134.2)">100</text>
<line x1="48.3" y1="105.0" x2="55.3" y2="105.0" stroke="#000" stroke-width="1"/>
<text x="39.8" y="105.0" font-size="11" text-anchor="middle" font-weight="normal" font-style="normal" fill="#000" transform="rotate(-90 39.8 105.0)">200</text>
<line x1="48.3" y1="75.8" x2="55.3" y2="75.8" stroke="#000" stroke-width="1"/>
<text x="39.8" y="75.8" font-size="11" text-anchor="middle" font-weight="normal" font-style="normal" fill="#000" transform="rotate(-90 39.8 75.8)">300</text>
<line x1="48.3" y1="46.6" x2="55.3" y2="46.6" stroke="#000" stroke-width="1"/>
<text x="39.8" y="46.6" font-size="11" text-anchor="middle" font-weight="normal" font-style="normal" fill="#000" transform="rotate(-90 39.8 46.6)">400</text>
<line x1="48.3" y1="297.9" x2="55.3" y2="297.9" stroke="#000" stroke-width="1"/>
<text x="39.8" y="297.9" font-size="11" text-anchor="middle" font-weight="normal" font-style="normal" fill="#000" transform="rotate(-90 39.8 297.9)">0</text>
<line x1="48.3" y1="268.8" x2="55.3" y2="268.8" stroke="#000" stroke-width="1"/>
<text x="39.8" y="268.8" font-size="11" text-anchor="middle" font-weight="normal" font-style="normal" fill="#000" transform="rotate(-90 39.8 268.8)">100</text>
<line x1="48.3" y1="239.7" x2="55.3" y2="239.7" stroke="#000" stroke-width="1"/>
<text x="39.8" y="239.7" font-size="11" text-anchor="middle" font-weight="normal" font-style="normal" fill="#000" transform="rotate(-90 39.8 239.7)">200</text>
<line x1="48.3" y1="210.5" x2="55.3" y2="210.5" stroke="#000" stroke-width="1"/>
<text x="39.8" y="210.5" font-size="11" text-anchor="middle" font-weight="normal" font-style="normal" fill="#000" transform="rotate(-90 39.8 210.5)">300</text>
<line x1="48.3" y1="181.4" x2="55.3" y2="181.4" stroke="#000" stroke-width="1"/>
<text x="39.8" y="181.4" font-size="11" text-anchor="middle" font-weight="normal" font-style="normal" fill="#000" transform="rotate(-90 39.8 181.4)">400</text>
<line x1="636" y1="163.5" x2="642.8" y2="163.5" stroke="#000" stroke-width="1"/>
<text x="660.1" y="163.5" font-size="11" text-anchor="middle" font-weight="normal" font-style="normal" fill="#000" transform="rotate(-90 660.1 163.5)">0</text>
<line x1="636" y1="144.7" x2="642.8" y2="144.7" stroke="#000" stroke-width="1"/>
<line x1="636" y1="125.8" x2="642.8" y2="125.8" stroke="#000" stroke-width="1"/>
<text x="660.1" y="125.8" font-size="11" text-anchor="middle" font-weight="normal" font-style="normal" fill="#000" transform="rotate(-90 660.1 125.8)">200</text>
<line x1="636" y1="107.0" x2="642.8" y2="107.0" stroke="#000" stroke-width="1"/>
<line x1="636" y1="88.1" x2="642.8" y2="88.1" stroke="#000" stroke-width="1"/>
<text x="660.1" y="88.1" font-size="11" text-anchor="middle" font-weight="normal" font-style="normal" fill="#000" transform="rotate(-90 660.1 88.1)">400</text>
<line x1="636" y1="69.2" x2="642.8" y2="69.2" stroke="#000" stroke-width="1"/>
<line x1="636" y1="50.4" x2="642.8" y2="50.4" stroke="#000" stroke-width="1"/>
<text x="660.1" y="50.4" font-size="11" text-anchor="middle" font-weight="normal" font-style="normal" fill="#000" transform="rotate(-90 660.1 50.4)">600</text>
<line x1="636" y1="297.9" x2="642.8" y2="297.9" stroke="#000" stroke-width="1"/>
<text x="660.1" y="297.9" font-size="11" text-anchor="middle" font-weight="normal" font-style="normal" fill="#000" transform="rotate(-90 660.1 297.9)">0</text>
<line x1="636" y1="279.2" x2="642.8" y2="279.2" stroke="#000" stroke-width="1"/>
<line x1="636" y1="260.5" x2="642.8" y2="260.5" stroke="#000" stroke-width="1"/>
<text x="660.1" y="260.5" font-size="11" text-anchor="middle" font-weight="normal" font-style="normal" fill="#000" transform="rotate(-90 660.1 260.5)">200</text>
<line x1="636" y1="241.7" x2="642.8" y2="241.7" stroke="#000" stroke-width="1"/>
<line x1="636" y1="223.0" x2="642.8" y2="223.0" stroke="#000" stroke-width="1"/>
<text x="660.1" y="223.0" font-size="11" text-anchor="middle" font-weight="normal" font-style="normal" fill="#000" transform="rotate(-90 660.1 223.0)">400</text>
<line x1="636" y1="204.3" x2="642.8" y2="204.3" stroke="#000" stroke-width="1"/>
<line x1="636" y1="185.6" x2="642.8" y2="185.6" stroke="#000" stroke-width="1"/>
<text x="660.1" y="185.6" font-size="11" text-anchor="middle" font-weight="normal" font-style="normal" fill="#000" transform="rotate(-90 660.1 185.6)">600</text>
<text x="78.9" y="59.2" font-size="13.7" text-anchor="start" font-weight="bold" font-style="normal" fill="#000">Shoot</text>
<text x="79.2" y="193.9" font-size="13.7" text-anchor="start" font-weight="bold" font-style="normal" fill="#000">Root</text>
<text x="16.1" y="167.0" font-size="19.3" text-anchor="middle" font-weight="normal" font-style="normal" fill="#000" transform="rotate(-90 16.1 167.0)">RNA count</text>
<text x="683.2" y="172.3" font-size="19.3" text-anchor="middle" font-weight="normal" font-style="normal" fill="#000" transform="rotate(-90 683.2 172.3)">Ribo count</text>
<text x="69.5" y="331.5" font-size="16.3" text-anchor="middle" font-weight="normal" font-style="normal" fill="#000">1</text>
<polygon points="90.3,325.9 94.2,322.4 124.6,322.4 124.6,329.4 94.2,329.4" fill="#fff" stroke="#000" stroke-width="0.9"/>
<polyline points="124.6,325.9 127.9,322.4 131.2,325.9" fill="none" stroke="#000" stroke-width="0.9"/>
<rect x="131.2" y="322.4" width="6.5" height="7" fill="#000" stroke="#000" stroke-width="0.9"/>
<polyline points="137.7,325.9 141.8,322.4 146.0,325.9" fill="none" stroke="#000" stroke-width="0.9"/>
<rect x="146.0" y="322.4" width="7.9" height="7" fill="#000" stroke="#000" stroke-width="0.9"/>
<polyline points="153.9,325.9 158.1,322.4 162.2,325.9" fill="none" stroke="#000" stroke-width="0.9"/>
<rect x="162.2" y="322.4" width="10.8" height="7" fill="#000" stroke="#000" stroke-width="0.9"/>
<polyline points="173.0,325.9 177.2,322.4 181.3,325.9" fill="none" stroke="#000" stroke-width="0.9"/>
<rect x="181.3" y="322.4" width="21.7" height="7" fill="#000" stroke="#000" stroke-width="0.9"/>
<polyline points="203.0,325.9 207.1,322.4 211.1,325.9" fill="none" stroke="#000" stroke-width="0.9"/>
<rect x="211.1" y="322.4" width="5.7" height="7" fill="#000" stroke="#000" stroke-width="0.9"/>
<polyline points="216.8,325.9 222.9,322.4 228.9,325.9" fill="none" stroke="#000" stroke-width="0.9"/>
<rect x="228.9" y="322.4" width="57.2" height="7" fill="#000" stroke="#000" stroke-width="0.9"/>
<polyline points="286.1,325.9 424.1,322.4 562.1,325.9" fill="none" stroke="#000" stroke-width="0.9"/>
<rect x="562.1" y="322.4" width="29.8" height="7" fill="#000" stroke="#000" stroke-width="0.9"/>
<rect x="591.9" y="322.4" width="9.8" height="7" fill="#D3D3D3" stroke="#000" stroke-width="0.9"/>
<text x="69.5" y="347.3" font-size="16.3" text-anchor="middle" font-weight="normal" font-style="normal" fill="#000">2</text>
<polygon points="90.3,341.7 94.2,338.2 124.6,338.2 124.6,345.2 94.2,345.2" fill="#fff" stroke="#000" stroke-width="0.9"/>
<polyline points="124.6,341.7 127.9,338.2 131.2,341.7" fill="none" stroke="#000" stroke-width="0.9"/>
<rect x="131.2" y="338.2" width="6.5" height="7" fill="#000" stroke="#000" stroke-width="0.9"/>
<polyline points="137.7,341.7 141.8,338.2 146.0,341.7" fill="none" stroke="#000" stroke-width="0.9"/>
<rect x="146.0" y="338.2" width="7.9" height="7" fill="#000" stroke="#000" stroke-width="0.9"/>
<polyline points="153.9,341.7 158.1,338.2 162.2,341.7" fill="none" stroke="#000" stroke-width="0.9"/>
<rect x="162.2" y="338.2" width="10.8" height="7" fill="#000" stroke="#000" stroke-width="0.9"/>
<polyline points="173.0,341.7 177.2,338.2 181.3,341.7" fill="none" stroke="#000" stroke-width="0.9"/>
<rect x="181.3" y="338.2" width="21.7" height="7" fill="#000" stroke="#000" stroke-width="0.9"/>
<polyline points="203.0,341.7 207.1,338.2 211.1,341.7" fill="none" stroke="#000" stroke-width="0.9"/>
<rect x="211.1" y="338.2" width="5.7" height="7" fill="#000" stroke="#000" stroke-width="0.9"/>
<polyline points="216.8,341.7 222.9,338.2 228.9,341.7" fill="none" stroke="#000" stroke-width="0.9"/>
<rect x="228.9" y="338.2" width="57.2" height="7" fill="#000" stroke="#000" stroke-width="0.9"/>
<polyline points="286.1,341.7 347.2,338.2 408.3,341.7" fill="none" stroke="#000" stroke-width="0.9"/>
<rect x="408.3" y="338.2" width="30.6" height="7" fill="#000" stroke="#000" stroke-width="0.9"/>
<rect x="438.9" y="338.2" width="7.2" height="7" fill="#D3D3D3" stroke="#000" stroke-width="0.9"/>
<text x="69.5" y="364.9" font-size="16.3" text-anchor="middle" font-weight="normal" font-style="normal" fill="#000">3</text>
<polygon points="108.4,359.3 112.4,355.8 137.5,355.8 137.5,362.8 112.4,362.8" fill="#fff" stroke="#000" stroke-width="0.9"/><rect x="131.2" y="355.8" width="6.3" height="7" fill="#000" stroke="#000" stroke-width="0.9"/>
<polyline points="137.5,359.3 141.8,355.8 146.0,359.3" fill="none" stroke="#000" stroke-width="0.9"/>
<rect x="146.0" y="355.8" width="7.9" height="7" fill="#000" stroke="#000" stroke-width="0.9"/>
<polyline points="153.9,359.3 158.1,355.8 162.2,359.3" fill="none" stroke="#000" stroke-width="0.9"/>
<rect x="162.2" y="355.8" width="10.8" height="7" fill="#000" stroke="#000" stroke-width="0.9"/>
<polyline points="173.0,359.3 177.2,355.8 181.3,359.3" fill="none" stroke="#000" stroke-width="0.9"/>
<rect x="181.3" y="355.8" width="21.7" height="7" fill="#000" stroke="#000" stroke-width="0.9"/>
<polyline points="203.0,359.3 207.1,355.8 211.1,359.3" fill="none" stroke="#000" stroke-width="0.9"/>
<rect x="211.1" y="355.8" width="5.7" height="7" fill="#000" stroke="#000" stroke-width="0.9"/>
<polyline points="216.8,359.3 222.9,355.8 228.9,359.3" fill="none" stroke="#000" stroke-width="0.9"/>
<rect x="228.9" y="355.8" width="57.2" height="7" fill="#000" stroke="#000" stroke-width="0.9"/>
<polyline points="286.1,359.3 424.1,355.8 562.1,359.3" fill="none" stroke="#000" stroke-width="0.9"/>
<rect x="562.1" y="355.8" width="29.8" height="7" fill="#000" stroke="#000" stroke-width="0.9"/>
<rect x="591.9" y="355.8" width="4.6" height="7" fill="#D3D3D3" stroke="#000" stroke-width="0.9"/>
<text x="69.7" y="383.9" font-size="17.5" text-anchor="middle" font-weight="bold" font-style="normal" fill="#000">4</text>
<polygon points="97.2,377.4 101.2,373.9 124.8,373.9 124.8,380.9 101.2,380.9" fill="#fff" stroke="#000" stroke-width="0.9"/><rect x="108.0" y="373.9" width="16.8" height="7" fill="#000" stroke="#000" stroke-width="0.9"/>
<polyline points="124.8,377.4 128.0,373.9 131.2,377.4" fill="none" stroke="#000" stroke-width="0.9"/>
<rect x="131.2" y="373.9" width="6.5" height="7" fill="#000" stroke="#000" stroke-width="0.9"/>
<polyline points="137.7,377.4 141.8,373.9 146.0,377.4" fill="none" stroke="#000" stroke-width="0.9"/>
<rect x="146.0" y="373.9" width="7.9" height="7" fill="#000" stroke="#000" stroke-width="0.9"/>
<polyline points="153.9,377.4 158.1,373.9 162.2,377.4" fill="none" stroke="#000" stroke-width="0.9"/>
<rect x="162.2" y="373.9" width="10.8" height="7" fill="#000" stroke="#000" stroke-width="0.9"/>
<polyline points="173.0,377.4 177.2,373.9 181.3,377.4" fill="none" stroke="#000" stroke-width="0.9"/>
<rect x="181.3" y="373.9" width="21.7" height="7" fill="#000" stroke="#000" stroke-width="0.9"/>
<polyline points="203.0,377.4 207.1,373.9 211.1,377.4" fill="none" stroke="#000" stroke-width="0.9"/>
<rect x="211.1" y="373.9" width="5.7" height="7" fill="#000" stroke="#000" stroke-width="0.9"/>
<polyline points="216.8,377.4 222.9,373.9 228.9,377.4" fill="none" stroke="#000" stroke-width="0.9"/>
<rect x="228.9" y="373.9" width="57.2" height="7" fill="#000" stroke="#000" stroke-width="0.9"/>
<polyline points="286.1,377.4 347.2,373.9 408.3,377.4" fill="none" stroke="#000" stroke-width="0.9"/>
<rect x="408.3" y="373.9" width="30.6" height="7" fill="#000" stroke="#000" stroke-width="0.9"/>
<rect x="438.9" y="373.9" width="14.6" height="7" fill="#D3D3D3" stroke="#000" stroke-width="0.9"/>
<line x1="57.5" y1="399.7" x2="594" y2="399.7" stroke="#000" stroke-width="1.2"/>
<line x1="57.5" y1="399.7" x2="57.5" y2="406.4" stroke="#000" stroke-width="1.2"/>
<text x="57.5" y="423.4" font-size="10.8" text-anchor="middle" font-weight="normal" font-style="normal" fill="#000">11625000</text>
<line x1="146.9" y1="399.7" x2="146.9" y2="406.4" stroke="#000" stroke-width="1.2"/>
<text x="146.9" y="423.4" font-size="10.8" text-anchor="middle" font-weight="normal" font-style="normal" fill="#000">11626000</text>
<line x1="236.3" y1="399.7" x2="236.3" y2="406.4" stroke="#000" stroke-width="1.2"/>
<text x="236.3" y="423.4" font-size="10.8" text-anchor="middle" font-weight="normal" font-style="normal" fill="#000">11627000</text>
<line x1="325.8" y1="399.7" x2="325.8" y2="406.4" stroke="#000" stroke-width="1.2"/>
<text x="325.8" y="423.4" font-size="10.8" text-anchor="middle" font-weight="normal" font-style="normal" fill="#000">11628000</text>
<line x1="415.2" y1="399.7" x2="415.2" y2="406.4" stroke="#000" stroke-width="1.2"/>
<text x="415.2" y="423.4" font-size="10.8" text-anchor="middle" font-weight="normal" font-style="normal" fill="#000">11629000</text>
<line x1="504.6" y1="399.7" x2="504.6" y2="406.4" stroke="#000" stroke-width="1.2"/>
<text x="504.6" y="423.4" font-size="10.8" text-anchor="middle" font-weight="normal" font-style="normal" fill="#000">11630000</text>
<line x1="594.0" y1="399.7" x2="594.0" y2="406.4" stroke="#000" stroke-width="1.2"/>
<text x="594.0" y="423.4" font-size="10.8" text-anchor="middle" font-weight="normal" font-style="normal" fill="#000">11631000</text></g>
</svg></body></html>
